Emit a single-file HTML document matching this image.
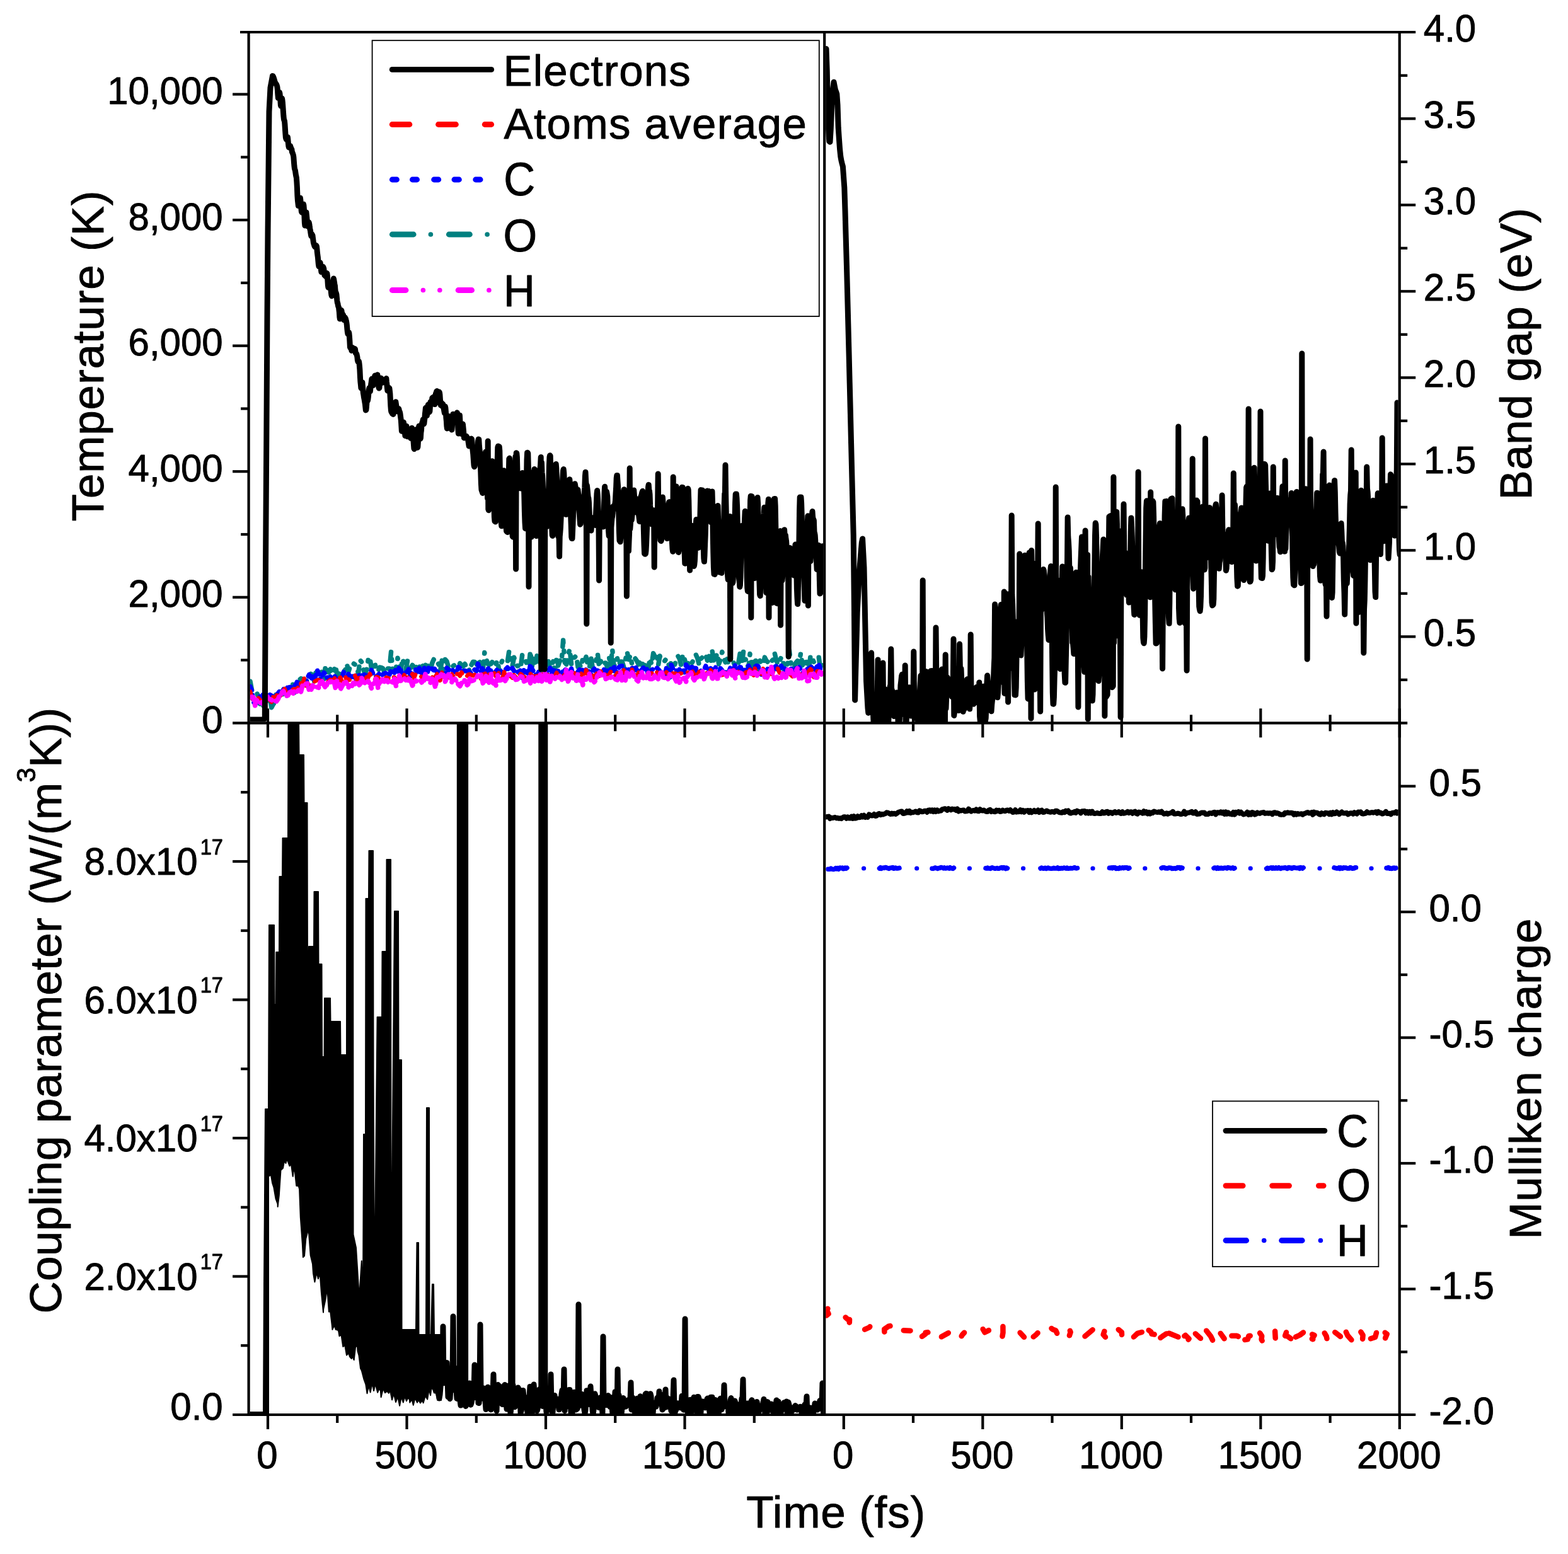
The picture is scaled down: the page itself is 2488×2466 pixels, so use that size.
<!DOCTYPE html>
<html><head><meta charset="utf-8"><style>html,body{margin:0;padding:0;background:#fff}svg{display:block}</style></head>
<body><svg xmlns="http://www.w3.org/2000/svg" width="2488" height="2466" viewBox="0 0 2488 2466">
<rect width="2488" height="2466" fill="#fff"/>
<defs><clipPath id="cTL"><rect x="396.6" y="53.0" width="909.6" height="1092.3"/></clipPath><clipPath id="cTR"><rect x="1310.2" y="53.0" width="908.4999999999998" height="1094.3"/></clipPath><clipPath id="cBL"><rect x="396.6" y="1147.3" width="909.6" height="1097.7"/></clipPath><clipPath id="cBR"><rect x="1310.2" y="1149.3" width="908.4999999999998" height="1093.7"/></clipPath></defs>
<g clip-path="url(#cTL)"><path d="M397.0 1081.3L399.6 1095.2L402.2 1098.7L404.8 1100.5L407.4 1098.9L410.0 1106.0L412.6 1117.0L415.2 1114.8L417.8 1119.9L420.4 1115.8L423.0 1117.8L425.6 1117.4L428.2 1106.5L430.8 1122.7L433.4 1117.7L436.0 1114.8L438.6 1097.8L441.2 1094.7L443.8 1097.5L446.4 1098.1L449.0 1101.5L451.6 1097.6L454.2 1099.6L456.8 1090.4L459.4 1095.0L462.0 1093.9L464.6 1085.4L467.2 1099.2L469.8 1090.0L472.4 1092.6L475.0 1079.1L477.6 1076.7L480.2 1077.7L482.8 1078.4L485.4 1082.3L488.0 1078.9L490.6 1073.6L493.2 1069.4L495.8 1071.3L498.4 1081.8L501.0 1067.7L503.6 1073.7L506.2 1074.0L508.8 1060.7L511.4 1070.0L514.0 1077.7L516.6 1055.6L519.2 1066.1L521.8 1067.0L524.4 1061.8L527.0 1069.8L529.6 1065.7L532.2 1056.0L534.8 1070.4L537.4 1068.9L540.0 1070.1L542.6 1072.8L545.2 1065.3L547.8 1063.2L550.4 1053.5L553.0 1065.8L555.6 1057.6L558.2 1058.4L560.8 1052.9L563.4 1054.6L566.0 1057.3L568.6 1068.9L571.2 1047.1L573.8 1050.6L576.4 1061.4L579.0 1069.1L581.6 1063.2L584.2 1046.9L586.8 1042.7L589.4 1061.2L592.0 1053.9L594.6 1051.2L597.2 1064.6L599.8 1065.2L602.4 1059.0L605.0 1059.4L607.6 1060.6L610.2 1068.1L612.8 1061.6L615.4 1060.9L618.0 1061.0L620.6 1034.0L623.2 1065.6L625.8 1063.4L628.4 1060.6L631.0 1044.2L633.6 1052.9L636.2 1062.4L638.8 1045.1L641.4 1055.6L644.0 1063.3L646.6 1048.1L649.2 1067.0L651.8 1060.0L654.4 1055.4L657.0 1058.4L659.6 1060.4L662.2 1056.9L664.8 1063.5L667.4 1051.7L670.0 1053.2L672.6 1062.6L675.2 1055.9L677.8 1049.9L680.4 1061.7L683.0 1065.0L685.6 1052.5L688.2 1046.4L690.8 1054.4L693.4 1054.2L696.0 1053.2L698.6 1064.2L701.2 1048.3L703.8 1063.0L706.4 1046.5L709.0 1049.5L711.6 1058.6L714.2 1061.8L716.8 1059.9L719.4 1056.5L722.0 1055.0L724.6 1055.0L727.2 1057.7L729.8 1052.7L732.4 1055.5L735.0 1057.3L737.6 1053.5L740.2 1058.4L742.8 1057.0L745.4 1066.3L748.0 1055.2L750.6 1050.2L753.2 1050.5L755.8 1052.7L758.4 1058.7L761.0 1050.4L763.6 1055.0L766.2 1064.3L768.8 1035.6L771.4 1044.8L774.0 1053.6L776.6 1054.5L779.2 1053.4L781.8 1048.9L784.4 1055.9L787.0 1053.4L789.6 1048.0L792.2 1067.1L794.8 1053.5L797.4 1047.5L800.0 1050.4L802.6 1049.5L805.2 1050.5L807.8 1033.2L810.4 1047.7L813.0 1057.4L815.6 1043.2L818.2 1050.4L820.8 1057.0L823.4 1056.3L826.0 1060.4L828.6 1039.7L831.2 1048.4L833.8 1048.4L836.4 1054.7L839.0 1057.7L841.6 1033.1L844.2 1057.6L846.8 1041.1L849.4 1054.9L852.0 1040.8L854.6 1051.6L857.2 1058.2L859.8 1049.4L862.4 1051.6L865.0 1055.5L867.6 1051.2L870.2 1049.7L872.8 1060.2L875.4 1057.1L878.0 1048.3L880.6 1068.0L883.2 1042.7L885.8 1056.1L888.4 1048.4L891.0 1051.0L893.6 1016.0L896.2 1051.5L898.8 1054.2L901.4 1040.1L904.0 1030.0L906.6 1053.9L909.2 1043.6L911.8 1043.2L914.4 1040.3L917.0 1058.1L919.6 1054.7L922.2 1059.4L924.8 1043.7L927.4 1049.7L930.0 1042.3L932.6 1054.7L935.2 1060.0L937.8 1043.8L940.4 1059.7L943.0 1056.0L945.6 1048.4L948.2 1036.7L950.8 1058.6L953.4 1048.8L956.0 1045.5L958.6 1052.0L961.2 1052.1L963.8 1059.1L966.4 1042.7L969.0 1056.7L971.6 1030.0L974.2 1058.7L976.8 1048.1L979.4 1044.4L982.0 1055.8L984.6 1049.9L987.2 1049.9L989.8 1058.4L992.4 1047.4L995.0 1034.1L997.6 1046.5L1000.2 1040.0L1002.8 1054.3L1005.4 1051.1L1008.0 1045.0L1010.6 1048.9L1013.2 1054.4L1015.8 1049.5L1018.4 1057.6L1021.0 1048.6L1023.6 1055.8L1026.2 1058.7L1028.8 1059.5L1031.4 1044.6L1034.0 1054.7L1036.6 1036.8L1039.2 1042.0L1041.8 1036.2L1044.4 1055.9L1047.0 1041.0L1049.6 1048.9L1052.2 1047.8L1054.8 1048.8L1057.4 1045.2L1060.0 1050.5L1062.6 1060.6L1065.2 1049.3L1067.8 1052.5L1070.4 1055.5L1073.0 1047.7L1075.6 1040.8L1078.2 1045.4L1080.8 1056.0L1083.4 1038.3L1086.0 1045.1L1088.6 1055.5L1091.2 1054.2L1093.8 1049.0L1096.4 1054.2L1099.0 1050.1L1101.6 1041.3L1104.2 1038.8L1106.8 1044.8L1109.4 1055.0L1112.0 1045.3L1114.6 1043.1L1117.2 1044.0L1119.8 1039.0L1122.4 1048.2L1125.0 1041.3L1127.6 1051.4L1130.2 1033.7L1132.8 1051.1L1135.4 1044.8L1138.0 1036.4L1140.6 1053.7L1143.2 1047.2L1145.8 1034.5L1148.4 1043.3L1151.0 1050.9L1153.6 1046.0L1156.2 1054.1L1158.8 1053.9L1161.4 1053.3L1164.0 1051.1L1166.6 1057.7L1169.2 1053.3L1171.8 1051.9L1174.4 1035.5L1177.0 1054.8L1179.6 1034.0L1182.2 1047.1L1184.8 1045.9L1187.4 1061.6L1190.0 1037.6L1192.6 1052.0L1195.2 1064.8L1197.8 1043.0L1200.4 1053.5L1203.0 1061.3L1205.6 1048.2L1208.2 1052.6L1210.8 1054.9L1213.4 1043.1L1216.0 1048.4L1218.6 1050.9L1221.2 1054.4L1223.8 1048.8L1226.4 1047.7L1229.0 1036.0L1231.6 1046.7L1234.2 1054.8L1236.8 1049.7L1239.4 1043.5L1242.0 1043.5L1244.6 1066.3L1247.2 1056.4L1249.8 1053.1L1252.4 1032.1L1255.0 1053.0L1257.6 1052.1L1260.2 1059.9L1262.8 1051.8L1265.4 1048.6L1268.0 1052.4L1270.6 1036.4L1273.2 1055.7L1275.8 1051.1L1278.4 1044.4L1281.0 1057.6L1283.6 1060.8L1286.2 1039.9L1288.8 1044.7L1291.4 1050.9L1294.0 1050.2L1296.6 1046.4L1299.2 1042.7L1301.8 1062.8L1304.4 1055.7" fill="none" stroke="#008080" stroke-width="7.5" stroke-linejoin="round" stroke-linecap="round" stroke-dasharray="14 13 2 13"/><path d="M397.0 1089.6L399.6 1095.7L402.2 1115.7L404.8 1112.8L407.4 1116.8L410.0 1112.5L412.6 1105.3L415.2 1110.6L417.8 1100.0L420.4 1106.4L423.0 1108.2L425.6 1109.6L428.2 1102.6L430.8 1104.0L433.4 1105.4L436.0 1103.7L438.6 1103.6L441.2 1100.3L443.8 1096.6L446.4 1100.4L449.0 1095.7L451.6 1090.6L454.2 1090.4L456.8 1092.1L459.4 1090.4L462.0 1090.5L464.6 1088.7L467.2 1088.3L469.8 1085.8L472.4 1079.6L475.0 1086.1L477.6 1087.8L480.2 1083.9L482.8 1080.4L485.4 1082.6L488.0 1075.5L490.6 1070.6L493.2 1078.7L495.8 1073.6L498.4 1080.4L501.0 1071.5L503.6 1063.9L506.2 1070.3L508.8 1081.4L511.4 1072.2L514.0 1067.5L516.6 1070.1L519.2 1075.7L521.8 1075.4L524.4 1073.7L527.0 1079.4L529.6 1075.7L532.2 1072.2L534.8 1074.8L537.4 1079.4L540.0 1076.1L542.6 1076.2L545.2 1066.5L547.8 1070.5L550.4 1074.3L553.0 1069.5L555.6 1075.5L558.2 1073.2L560.8 1074.4L563.4 1069.2L566.0 1081.5L568.6 1075.5L571.2 1068.8L573.8 1070.0L576.4 1081.1L579.0 1067.7L581.6 1073.0L584.2 1073.4L586.8 1068.8L589.4 1063.4L592.0 1069.3L594.6 1069.9L597.2 1073.3L599.8 1071.5L602.4 1068.1L605.0 1071.7L607.6 1070.3L610.2 1068.7L612.8 1068.0L615.4 1066.6L618.0 1070.7L620.6 1062.8L623.2 1064.7L625.8 1067.5L628.4 1060.8L631.0 1065.4L633.6 1058.3L636.2 1064.2L638.8 1069.8L641.4 1069.7L644.0 1066.9L646.6 1066.0L649.2 1060.6L651.8 1075.2L654.4 1069.2L657.0 1071.8L659.6 1062.8L662.2 1065.9L664.8 1058.5L667.4 1070.2L670.0 1070.8L672.6 1058.0L675.2 1066.3L677.8 1069.3L680.4 1058.5L683.0 1058.1L685.6 1061.5L688.2 1063.4L690.8 1059.9L693.4 1066.3L696.0 1067.2L698.6 1068.9L701.2 1069.2L703.8 1072.7L706.4 1071.2L709.0 1060.0L711.6 1063.6L714.2 1061.1L716.8 1061.0L719.4 1065.5L722.0 1065.9L724.6 1068.0L727.2 1058.7L729.8 1060.2L732.4 1065.7L735.0 1064.9L737.6 1064.3L740.2 1065.4L742.8 1062.3L745.4 1068.9L748.0 1067.3L750.6 1065.3L753.2 1062.6L755.8 1064.8L758.4 1053.4L761.0 1061.2L763.6 1065.7L766.2 1058.8L768.8 1066.4L771.4 1066.2L774.0 1059.3L776.6 1064.4L779.2 1064.1L781.8 1067.5L784.4 1068.2L787.0 1065.3L789.6 1061.6L792.2 1064.7L794.8 1065.1L797.4 1068.7L800.0 1066.7L802.6 1062.1L805.2 1059.2L807.8 1063.6L810.4 1061.9L813.0 1060.2L815.6 1064.7L818.2 1063.0L820.8 1065.7L823.4 1067.5L826.0 1063.3L828.6 1075.6L831.2 1063.7L833.8 1070.1L836.4 1065.6L839.0 1070.1L841.6 1054.4L844.2 1061.7L846.8 1066.1L849.4 1067.7L852.0 1075.5L854.6 1066.4L857.2 1070.7L859.8 1068.4L862.4 1069.2L865.0 1067.2L867.6 1064.2L870.2 1067.2L872.8 1060.0L875.4 1070.1L878.0 1060.2L880.6 1065.9L883.2 1074.3L885.8 1063.8L888.4 1064.8L891.0 1070.0L893.6 1064.8L896.2 1061.1L898.8 1065.8L901.4 1067.3L904.0 1067.8L906.6 1061.1L909.2 1072.5L911.8 1072.1L914.4 1064.7L917.0 1065.8L919.6 1062.6L922.2 1070.9L924.8 1061.3L927.4 1067.5L930.0 1062.3L932.6 1061.3L935.2 1067.7L937.8 1070.4L940.4 1064.4L943.0 1061.3L945.6 1068.0L948.2 1064.1L950.8 1065.7L953.4 1071.2L956.0 1069.4L958.6 1061.9L961.2 1074.5L963.8 1064.3L966.4 1067.8L969.0 1061.3L971.6 1064.0L974.2 1056.3L976.8 1072.2L979.4 1070.3L982.0 1058.7L984.6 1057.3L987.2 1056.8L989.8 1069.4L992.4 1062.0L995.0 1063.8L997.6 1062.6L1000.2 1063.5L1002.8 1059.1L1005.4 1064.1L1008.0 1057.5L1010.6 1063.6L1013.2 1065.3L1015.8 1066.0L1018.4 1062.8L1021.0 1059.8L1023.6 1064.6L1026.2 1061.6L1028.8 1070.9L1031.4 1067.2L1034.0 1063.3L1036.6 1061.6L1039.2 1060.6L1041.8 1059.5L1044.4 1062.1L1047.0 1065.0L1049.6 1066.0L1052.2 1066.2L1054.8 1073.1L1057.4 1060.5L1060.0 1063.7L1062.6 1076.2L1065.2 1055.2L1067.8 1061.2L1070.4 1064.3L1073.0 1064.2L1075.6 1065.3L1078.2 1062.4L1080.8 1065.1L1083.4 1063.7L1086.0 1066.9L1088.6 1054.9L1091.2 1059.4L1093.8 1063.4L1096.4 1058.7L1099.0 1058.7L1101.6 1066.2L1104.2 1060.4L1106.8 1066.2L1109.4 1066.6L1112.0 1064.6L1114.6 1065.5L1117.2 1062.8L1119.8 1056.9L1122.4 1063.1L1125.0 1065.2L1127.6 1060.8L1130.2 1062.7L1132.8 1066.5L1135.4 1059.2L1138.0 1066.0L1140.6 1071.5L1143.2 1060.6L1145.8 1063.7L1148.4 1062.4L1151.0 1069.9L1153.6 1064.4L1156.2 1067.0L1158.8 1059.9L1161.4 1062.9L1164.0 1062.9L1166.6 1054.9L1169.2 1069.4L1171.8 1066.9L1174.4 1055.0L1177.0 1066.2L1179.6 1062.2L1182.2 1064.8L1184.8 1064.4L1187.4 1056.0L1190.0 1061.8L1192.6 1069.5L1195.2 1060.1L1197.8 1058.1L1200.4 1056.6L1203.0 1057.2L1205.6 1064.2L1208.2 1070.3L1210.8 1064.6L1213.4 1063.7L1216.0 1072.6L1218.6 1060.2L1221.2 1059.5L1223.8 1064.9L1226.4 1065.0L1229.0 1057.9L1231.6 1057.2L1234.2 1063.8L1236.8 1063.6L1239.4 1056.6L1242.0 1061.5L1244.6 1060.0L1247.2 1064.5L1249.8 1061.8L1252.4 1062.0L1255.0 1060.7L1257.6 1067.1L1260.2 1068.6L1262.8 1060.6L1265.4 1066.1L1268.0 1058.8L1270.6 1062.6L1273.2 1065.6L1275.8 1069.0L1278.4 1060.5L1281.0 1061.8L1283.6 1063.0L1286.2 1055.4L1288.8 1062.2L1291.4 1059.1L1294.0 1063.8L1296.6 1057.0L1299.2 1053.1L1301.8 1062.2L1304.4 1063.2" fill="none" stroke="#0000ff" stroke-width="7.5" stroke-linejoin="round" stroke-linecap="round" stroke-dasharray="6 8"/><path d="M397.0 1097.4L399.6 1107.9L402.2 1110.2L404.8 1109.6L407.4 1113.3L410.0 1107.6L412.6 1110.7L415.2 1113.1L417.8 1116.2L420.4 1113.3L423.0 1113.5L425.6 1109.4L428.2 1111.1L430.8 1114.0L433.4 1105.7L436.0 1113.6L438.6 1103.4L441.2 1104.2L443.8 1103.4L446.4 1104.8L449.0 1096.8L451.6 1093.0L454.2 1100.0L456.8 1099.4L459.4 1097.8L462.0 1102.7L464.6 1094.3L467.2 1093.3L469.8 1094.2L472.4 1091.4L475.0 1094.2L477.6 1084.3L480.2 1085.8L482.8 1076.0L485.4 1088.2L488.0 1084.0L490.6 1087.3L493.2 1090.4L495.8 1083.3L498.4 1081.9L501.0 1080.6L503.6 1079.0L506.2 1079.0L508.8 1082.2L511.4 1080.0L514.0 1079.9L516.6 1079.0L519.2 1082.1L521.8 1080.6L524.4 1078.5L527.0 1080.7L529.6 1078.1L532.2 1074.9L534.8 1082.5L537.4 1079.3L540.0 1074.9L542.6 1080.8L545.2 1078.4L547.8 1072.5L550.4 1081.8L553.0 1077.9L555.6 1079.5L558.2 1077.3L560.8 1076.1L563.4 1071.8L566.0 1079.3L568.6 1076.3L571.2 1075.3L573.8 1077.1L576.4 1076.2L579.0 1077.9L581.6 1074.6L584.2 1075.5L586.8 1069.1L589.4 1074.2L592.0 1077.3L594.6 1079.2L597.2 1074.0L599.8 1074.6L602.4 1079.7L605.0 1073.9L607.6 1077.1L610.2 1079.8L612.8 1074.9L615.4 1078.4L618.0 1072.5L620.6 1075.2L623.2 1074.3L625.8 1074.8L628.4 1077.8L631.0 1081.5L633.6 1072.3L636.2 1072.6L638.8 1075.7L641.4 1071.0L644.0 1075.6L646.6 1075.8L649.2 1073.2L651.8 1075.6L654.4 1069.3L657.0 1076.1L659.6 1069.2L662.2 1071.7L664.8 1072.0L667.4 1072.4L670.0 1076.2L672.6 1073.8L675.2 1072.3L677.8 1075.1L680.4 1078.1L683.0 1073.4L685.6 1074.4L688.2 1077.0L690.8 1074.0L693.4 1069.3L696.0 1080.6L698.6 1079.7L701.2 1067.0L703.8 1072.8L706.4 1074.2L709.0 1075.8L711.6 1074.9L714.2 1072.0L716.8 1069.7L719.4 1073.1L722.0 1075.9L724.6 1069.5L727.2 1069.6L729.8 1072.6L732.4 1066.9L735.0 1071.9L737.6 1071.3L740.2 1074.0L742.8 1070.5L745.4 1069.9L748.0 1071.3L750.6 1072.3L753.2 1070.5L755.8 1072.5L758.4 1074.7L761.0 1075.9L763.6 1077.5L766.2 1070.0L768.8 1071.1L771.4 1064.8L774.0 1078.0L776.6 1070.1L779.2 1072.1L781.8 1073.7L784.4 1068.1L787.0 1073.5L789.6 1072.0L792.2 1066.6L794.8 1072.9L797.4 1075.6L800.0 1066.4L802.6 1074.4L805.2 1072.6L807.8 1073.3L810.4 1073.2L813.0 1075.8L815.6 1071.2L818.2 1074.4L820.8 1070.6L823.4 1073.9L826.0 1069.3L828.6 1071.4L831.2 1076.9L833.8 1073.0L836.4 1071.2L839.0 1068.2L841.6 1069.2L844.2 1072.1L846.8 1074.4L849.4 1072.8L852.0 1073.1L854.6 1071.3L857.2 1075.5L859.8 1070.2L862.4 1069.7L865.0 1074.0L867.6 1071.5L870.2 1070.5L872.8 1069.5L875.4 1070.5L878.0 1073.1L880.6 1072.3L883.2 1067.5L885.8 1072.4L888.4 1071.7L891.0 1068.1L893.6 1073.4L896.2 1070.2L898.8 1070.0L901.4 1073.4L904.0 1074.9L906.6 1068.9L909.2 1072.2L911.8 1068.3L914.4 1077.8L917.0 1069.3L919.6 1074.4L922.2 1068.8L924.8 1073.2L927.4 1077.4L930.0 1063.1L932.6 1069.4L935.2 1072.1L937.8 1070.3L940.4 1068.6L943.0 1077.0L945.6 1070.8L948.2 1065.6L950.8 1073.1L953.4 1065.3L956.0 1073.9L958.6 1068.7L961.2 1070.8L963.8 1074.1L966.4 1070.7L969.0 1066.1L971.6 1065.2L974.2 1073.8L976.8 1072.5L979.4 1067.8L982.0 1072.8L984.6 1071.6L987.2 1072.1L989.8 1063.3L992.4 1069.2L995.0 1072.8L997.6 1072.2L1000.2 1072.6L1002.8 1062.6L1005.4 1070.5L1008.0 1071.4L1010.6 1077.6L1013.2 1067.0L1015.8 1068.9L1018.4 1069.9L1021.0 1072.5L1023.6 1068.4L1026.2 1073.2L1028.8 1067.4L1031.4 1070.5L1034.0 1068.1L1036.6 1070.1L1039.2 1067.5L1041.8 1064.8L1044.4 1072.8L1047.0 1070.4L1049.6 1067.8L1052.2 1070.1L1054.8 1072.4L1057.4 1066.5L1060.0 1069.1L1062.6 1071.0L1065.2 1070.9L1067.8 1068.3L1070.4 1063.0L1073.0 1073.0L1075.6 1070.2L1078.2 1069.3L1080.8 1068.4L1083.4 1070.0L1086.0 1067.9L1088.6 1066.1L1091.2 1066.9L1093.8 1067.3L1096.4 1067.2L1099.0 1065.6L1101.6 1070.9L1104.2 1065.0L1106.8 1070.9L1109.4 1065.9L1112.0 1070.0L1114.6 1073.0L1117.2 1069.5L1119.8 1066.6L1122.4 1068.9L1125.0 1069.2L1127.6 1063.5L1130.2 1066.9L1132.8 1069.2L1135.4 1067.3L1138.0 1068.9L1140.6 1070.8L1143.2 1070.9L1145.8 1071.3L1148.4 1070.3L1151.0 1067.7L1153.6 1068.4L1156.2 1067.7L1158.8 1067.5L1161.4 1067.9L1164.0 1063.2L1166.6 1067.4L1169.2 1068.3L1171.8 1065.4L1174.4 1068.2L1177.0 1069.8L1179.6 1067.7L1182.2 1074.4L1184.8 1060.4L1187.4 1067.5L1190.0 1062.7L1192.6 1071.1L1195.2 1076.0L1197.8 1060.6L1200.4 1068.4L1203.0 1069.6L1205.6 1067.1L1208.2 1069.6L1210.8 1061.2L1213.4 1070.5L1216.0 1069.0L1218.6 1067.9L1221.2 1066.1L1223.8 1069.7L1226.4 1066.3L1229.0 1068.4L1231.6 1066.2L1234.2 1061.0L1236.8 1067.6L1239.4 1068.3L1242.0 1069.9L1244.6 1065.0L1247.2 1067.5L1249.8 1069.4L1252.4 1068.0L1255.0 1071.2L1257.6 1073.4L1260.2 1064.7L1262.8 1061.7L1265.4 1070.0L1268.0 1072.0L1270.6 1070.1L1273.2 1069.8L1275.8 1065.4L1278.4 1065.1L1281.0 1069.9L1283.6 1064.5L1286.2 1061.8L1288.8 1064.2L1291.4 1074.6L1294.0 1072.9L1296.6 1065.0L1299.2 1064.9L1301.8 1067.7L1304.4 1064.8" fill="none" stroke="#ff0000" stroke-width="6.5" stroke-linejoin="round" stroke-linecap="round" stroke-dasharray="14 12"/><path d="M397.0 1106.6L399.6 1105.8L402.2 1106.6L404.8 1119.7L407.4 1111.2L410.0 1116.3L412.6 1115.9L415.2 1114.4L417.8 1117.6L420.4 1112.5L423.0 1106.8L425.6 1105.0L428.2 1109.6L430.8 1110.7L433.4 1112.9L436.0 1111.9L438.6 1113.0L441.2 1109.4L443.8 1103.4L446.4 1102.4L449.0 1094.0L451.6 1102.4L454.2 1104.5L456.8 1103.5L459.4 1099.0L462.0 1097.5L464.6 1101.9L467.2 1096.1L469.8 1098.4L472.4 1096.5L475.0 1093.4L477.6 1097.7L480.2 1087.1L482.8 1087.7L485.4 1085.1L488.0 1084.7L490.6 1096.0L493.2 1096.6L495.8 1087.5L498.4 1089.8L501.0 1092.4L503.6 1090.1L506.2 1091.7L508.8 1078.9L511.4 1081.7L514.0 1087.1L516.6 1091.8L519.2 1085.1L521.8 1080.1L524.4 1082.5L527.0 1080.8L529.6 1079.7L532.2 1091.4L534.8 1080.6L537.4 1083.7L540.0 1094.3L542.6 1089.3L545.2 1084.9L547.8 1080.1L550.4 1085.0L553.0 1091.0L555.6 1086.0L558.2 1089.1L560.8 1083.3L563.4 1085.3L566.0 1081.7L568.6 1084.8L571.2 1089.1L573.8 1075.4L576.4 1082.2L579.0 1083.6L581.6 1079.5L584.2 1080.8L586.8 1086.2L589.4 1092.2L592.0 1085.3L594.6 1083.7L597.2 1074.3L599.8 1091.6L602.4 1082.3L605.0 1081.7L607.6 1076.3L610.2 1081.5L612.8 1076.3L615.4 1082.0L618.0 1084.0L620.6 1081.7L623.2 1082.9L625.8 1077.2L628.4 1088.6L631.0 1078.1L633.6 1072.2L636.2 1080.3L638.8 1077.4L641.4 1076.1L644.0 1079.3L646.6 1082.5L649.2 1075.1L651.8 1080.3L654.4 1088.0L657.0 1084.3L659.6 1080.0L662.2 1081.4L664.8 1080.1L667.4 1080.4L670.0 1084.3L672.6 1080.1L675.2 1068.5L677.8 1080.3L680.4 1075.9L683.0 1083.6L685.6 1077.2L688.2 1081.0L690.8 1091.1L693.4 1074.9L696.0 1074.5L698.6 1073.0L701.2 1068.0L703.8 1070.5L706.4 1081.6L709.0 1076.5L711.6 1070.3L714.2 1072.2L716.8 1082.6L719.4 1075.5L722.0 1077.5L724.6 1080.9L727.2 1086.0L729.8 1088.8L732.4 1084.2L735.0 1079.7L737.6 1079.8L740.2 1087.8L742.8 1085.9L745.4 1077.1L748.0 1080.8L750.6 1079.9L753.2 1078.7L755.8 1075.8L758.4 1071.6L761.0 1075.5L763.6 1070.4L766.2 1084.1L768.8 1080.6L771.4 1071.8L774.0 1084.8L776.6 1082.2L779.2 1068.1L781.8 1086.8L784.4 1081.5L787.0 1087.7L789.6 1071.2L792.2 1079.9L794.8 1079.3L797.4 1078.1L800.0 1077.9L802.6 1082.2L805.2 1069.4L807.8 1070.7L810.4 1069.9L813.0 1074.0L815.6 1073.7L818.2 1078.6L820.8 1078.0L823.4 1076.8L826.0 1073.2L828.6 1074.4L831.2 1081.3L833.8 1080.3L836.4 1077.0L839.0 1074.8L841.6 1084.1L844.2 1073.4L846.8 1079.5L849.4 1082.0L852.0 1074.9L854.6 1080.3L857.2 1070.6L859.8 1081.2L862.4 1077.1L865.0 1068.1L867.6 1079.3L870.2 1071.5L872.8 1082.3L875.4 1072.5L878.0 1075.0L880.6 1077.2L883.2 1074.1L885.8 1077.0L888.4 1072.9L891.0 1079.0L893.6 1075.6L896.2 1076.6L898.8 1061.8L901.4 1081.3L904.0 1075.6L906.6 1066.5L909.2 1075.8L911.8 1077.7L914.4 1080.6L917.0 1069.8L919.6 1082.9L922.2 1074.4L924.8 1087.1L927.4 1074.4L930.0 1078.4L932.6 1073.2L935.2 1069.4L937.8 1080.4L940.4 1079.4L943.0 1082.5L945.6 1079.1L948.2 1071.9L950.8 1066.4L953.4 1071.4L956.0 1071.3L958.6 1070.5L961.2 1077.5L963.8 1076.2L966.4 1073.2L969.0 1075.3L971.6 1073.7L974.2 1075.5L976.8 1078.1L979.4 1079.1L982.0 1070.8L984.6 1066.7L987.2 1081.3L989.8 1074.7L992.4 1079.6L995.0 1065.9L997.6 1072.4L1000.2 1074.1L1002.8 1066.8L1005.4 1071.3L1008.0 1077.5L1010.6 1079.3L1013.2 1081.8L1015.8 1069.5L1018.4 1066.7L1021.0 1076.3L1023.6 1078.4L1026.2 1074.6L1028.8 1067.1L1031.4 1077.5L1034.0 1077.5L1036.6 1076.3L1039.2 1071.0L1041.8 1075.0L1044.4 1077.4L1047.0 1070.6L1049.6 1064.1L1052.2 1074.9L1054.8 1075.7L1057.4 1073.3L1060.0 1077.6L1062.6 1070.2L1065.2 1072.7L1067.8 1071.6L1070.4 1075.9L1073.0 1081.0L1075.6 1071.7L1078.2 1083.2L1080.8 1080.6L1083.4 1076.8L1086.0 1075.8L1088.6 1081.7L1091.2 1071.9L1093.8 1072.2L1096.4 1067.4L1099.0 1075.0L1101.6 1079.4L1104.2 1075.3L1106.8 1074.7L1109.4 1071.5L1112.0 1073.4L1114.6 1065.3L1117.2 1077.7L1119.8 1070.4L1122.4 1066.8L1125.0 1068.6L1127.6 1068.2L1130.2 1076.5L1132.8 1077.5L1135.4 1065.4L1138.0 1076.8L1140.6 1076.6L1143.2 1069.2L1145.8 1064.6L1148.4 1068.3L1151.0 1068.8L1153.6 1073.7L1156.2 1070.1L1158.8 1061.7L1161.4 1073.0L1164.0 1064.1L1166.6 1076.3L1169.2 1065.7L1171.8 1068.3L1174.4 1067.4L1177.0 1068.9L1179.6 1078.1L1182.2 1075.8L1184.8 1074.6L1187.4 1073.1L1190.0 1063.7L1192.6 1068.9L1195.2 1068.7L1197.8 1066.5L1200.4 1073.9L1203.0 1067.6L1205.6 1067.7L1208.2 1066.0L1210.8 1060.9L1213.4 1074.2L1216.0 1077.8L1218.6 1072.0L1221.2 1066.2L1223.8 1057.5L1226.4 1071.9L1229.0 1077.1L1231.6 1072.4L1234.2 1075.6L1236.8 1078.3L1239.4 1076.5L1242.0 1068.6L1244.6 1076.0L1247.2 1074.6L1249.8 1063.0L1252.4 1068.7L1255.0 1063.5L1257.6 1070.1L1260.2 1073.5L1262.8 1065.2L1265.4 1060.2L1268.0 1077.0L1270.6 1072.3L1273.2 1077.8L1275.8 1063.8L1278.4 1075.7L1281.0 1080.7L1283.6 1080.3L1286.2 1069.2L1288.8 1071.6L1291.4 1069.4L1294.0 1075.1L1296.6 1075.3L1299.2 1070.5L1301.8 1063.3L1304.4 1073.7" fill="none" stroke="#ff00ff" stroke-width="7.5" stroke-linejoin="round" stroke-linecap="round" stroke-dasharray="10 7 3 7 3 7"/><path d="M396.6 1142.0L418.5 1142.0L420.3 1138.0L421.5 900.0L422.8 700.0L424.0 500.0L425.0 370.0L427.0 177.0L429.0 139.0L432.4 121.0L432.4 120.4L432.9 120.7L433.4 121.4L433.9 122.4L434.4 123.9L434.9 125.7L435.4 127.3L435.9 128.9L436.4 130.3L436.9 131.4L437.4 132.4L437.9 133.1L438.4 133.7L438.9 134.7L439.4 136.2L439.9 138.1L440.4 142.7L440.9 150.2L441.4 155.6L441.9 153.4L442.4 150.9L442.9 147.9L443.4 146.4L443.9 148.0L444.4 152.8L444.9 160.0L445.4 167.2L445.9 168.3L446.4 165.8L446.9 158.9L447.4 156.0L447.9 158.4L448.4 162.8L448.9 169.6L449.4 176.9L449.9 184.1L450.4 188.7L450.9 191.0L451.4 191.6L451.9 196.6L452.4 204.4L452.9 211.9L453.4 218.3L453.9 220.2L454.4 221.2L454.9 221.1L455.4 220.3L455.9 218.4L456.4 217.5L456.9 221.8L457.4 227.4L457.9 231.9L458.4 233.9L458.9 234.1L459.4 233.6L459.9 231.8L460.4 231.4L460.9 232.7L461.4 234.0L461.9 235.3L462.4 236.4L462.9 237.3L463.4 241.3L463.9 241.9L464.4 243.3L464.9 244.8L465.4 246.4L465.9 249.7L466.4 256.9L466.9 263.0L467.4 267.2L467.9 269.0L468.4 270.4L468.9 273.9L469.4 277.4L469.9 279.9L470.4 282.0L470.9 288.9L471.4 297.4L471.9 310.4L472.4 317.9L472.9 322.1L473.4 326.5L473.9 326.5L474.4 325.6L474.9 324.5L475.4 320.7L475.9 316.2L476.4 314.1L476.9 317.8L477.4 325.7L477.9 331.0L478.4 335.9L478.9 337.0L479.4 334.9L479.9 331.2L480.4 328.1L480.9 324.7L481.4 323.9L481.9 325.7L482.4 331.8L482.9 342.2L483.4 353.7L483.9 357.9L484.4 353.2L484.9 345.3L485.4 337.3L485.9 336.9L486.4 341.1L486.9 346.2L487.4 353.1L487.9 358.8L488.4 358.9L488.9 356.5L489.4 353.7L489.9 352.6L490.4 353.8L490.9 356.3L491.4 360.5L491.9 363.9L492.4 365.5L492.9 369.3L493.4 372.5L493.9 374.8L494.4 373.1L494.9 371.6L495.4 372.9L495.9 373.4L496.4 377.3L496.9 381.0L497.4 384.8L497.9 386.9L498.4 388.2L498.9 390.2L499.4 390.2L499.9 391.8L500.4 391.2L500.9 389.2L501.4 389.6L501.9 389.7L502.4 390.9L502.9 395.0L503.4 400.8L503.9 404.8L504.4 408.4L504.9 414.0L505.4 419.6L505.9 422.5L506.4 423.0L506.9 420.6L507.4 417.3L507.9 416.5L508.4 418.4L508.9 422.0L509.4 427.9L509.9 431.6L510.4 430.5L510.9 430.0L511.4 427.0L511.9 424.2L512.4 423.2L512.9 423.9L513.4 424.9L513.9 427.1L514.4 433.3L514.9 436.6L515.4 437.2L515.9 437.5L516.4 438.0L516.9 438.4L517.4 439.0L517.9 436.1L518.4 433.4L518.9 433.9L519.4 437.9L519.9 445.0L520.4 452.8L520.9 456.2L521.4 456.1L521.9 453.3L522.4 450.6L522.9 450.3L523.4 450.7L523.9 451.2L524.4 452.1L524.9 457.0L525.4 463.9L525.9 468.1L526.4 469.8L526.9 468.3L527.4 463.0L527.9 457.3L528.4 449.8L528.9 444.7L529.4 442.0L529.9 444.6L530.4 447.8L530.9 450.8L531.4 453.2L531.9 459.6L532.4 463.5L532.9 463.6L533.4 465.7L533.9 467.2L534.4 472.4L534.9 477.1L535.4 480.7L535.9 481.4L536.4 484.6L536.9 486.9L537.4 487.1L537.9 491.5L538.4 495.5L538.9 503.3L539.4 506.1L539.9 502.7L540.4 496.8L540.9 494.1L541.4 492.1L541.9 492.8L542.4 495.9L542.9 497.4L543.4 499.6L543.9 500.6L544.4 499.4L544.9 501.3L545.4 504.8L545.9 507.9L546.4 508.1L546.9 504.3L547.4 503.7L547.9 505.2L548.4 505.5L548.9 508.0L549.4 509.2L549.9 512.2L550.4 516.3L550.9 522.1L551.4 526.8L551.9 529.8L552.4 528.9L552.9 527.6L553.4 527.1L553.9 528.9L554.4 533.9L554.9 541.2L555.4 550.7L555.9 551.9L556.4 552.3L556.9 550.9L557.4 553.2L557.9 556.4L558.4 554.6L558.9 553.4L559.4 551.6L559.9 552.9L560.4 552.6L560.9 553.1L561.4 554.2L561.9 555.6L562.4 556.1L562.9 553.5L563.4 553.7L563.9 557.4L564.4 560.7L564.9 561.0L565.4 561.2L565.9 562.0L566.4 564.2L566.9 566.6L567.4 571.7L567.9 573.6L568.4 574.5L568.9 573.0L569.4 573.3L569.9 576.1L570.4 580.6L570.9 586.6L571.4 597.4L571.9 605.7L572.4 610.3L572.9 615.5L573.4 616.4L573.9 611.5L574.4 608.6L574.9 606.9L575.4 612.6L575.9 618.0L576.4 623.6L576.9 626.4L577.4 630.3L577.9 632.6L578.4 635.6L578.9 638.6L579.4 641.2L579.9 646.4L580.4 650.9L580.9 650.4L581.4 646.2L581.9 639.2L582.4 634.2L582.9 635.6L583.4 635.8L583.9 633.5L584.4 629.4L584.9 623.7L585.4 618.3L585.9 615.6L586.4 618.2L586.9 620.9L587.4 620.9L587.9 616.0L588.4 612.1L588.9 609.1L589.4 605.0L589.9 601.4L590.4 600.9L590.9 604.5L591.4 609.1L591.9 611.7L592.4 610.3L592.9 606.9L593.4 602.0L593.9 601.3L594.4 598.0L594.9 596.0L595.4 597.8L595.9 599.4L596.4 603.6L596.9 605.8L597.4 606.2L597.9 604.3L598.4 599.4L598.9 594.8L599.4 598.1L599.9 603.9L600.4 609.8L600.9 614.5L601.4 616.1L601.9 615.5L602.4 611.3L602.9 605.8L603.4 603.6L603.9 602.2L604.4 600.1L604.9 600.4L605.4 601.8L605.9 605.6L606.4 607.5L606.9 606.4L607.4 604.5L607.9 605.9L608.4 606.5L608.9 606.5L609.4 605.5L609.9 604.6L610.4 605.1L610.9 607.2L611.4 604.3L611.9 603.7L612.4 602.5L612.9 600.6L613.4 606.0L613.9 610.0L614.4 615.7L614.9 620.0L615.4 618.8L615.9 617.2L616.4 617.2L616.9 617.8L617.4 615.5L617.9 616.2L618.4 620.2L618.9 624.7L619.4 634.8L619.9 644.7L620.4 650.9L620.9 653.7L621.4 653.8L621.9 653.5L622.4 656.2L622.9 655.7L623.4 656.2L623.9 657.4L624.4 655.7L624.9 655.0L625.4 652.3L625.9 650.1L626.4 646.2L626.9 642.4L627.4 640.7L627.9 637.8L628.4 641.2L628.9 644.6L629.4 647.7L629.9 647.0L630.4 648.4L630.9 651.3L631.4 653.0L631.9 650.7L632.4 648.3L632.9 649.3L633.4 651.3L633.9 652.8L634.4 654.0L634.9 656.0L635.4 660.0L635.9 663.6L636.4 667.5L636.9 676.0L637.4 684.1L637.9 684.3L638.4 680.8L638.9 675.5L639.4 670.8L639.9 670.8L640.4 670.1L640.9 673.4L641.4 676.8L641.9 680.3L642.4 686.4L642.9 691.6L643.4 688.7L643.9 683.0L644.4 676.5L644.9 676.1L645.4 679.6L645.9 687.1L646.4 692.8L646.9 690.6L647.4 689.2L647.9 688.5L648.4 689.7L648.9 687.5L649.4 687.1L649.9 686.5L650.4 686.2L650.9 689.2L651.4 694.0L651.9 695.5L652.4 691.7L652.9 683.3L653.4 679.3L653.9 685.0L654.4 693.7L654.9 696.0L655.4 696.3L655.9 698.4L656.4 704.9L656.9 711.4L657.4 712.6L657.9 709.3L658.4 700.0L658.9 690.5L659.4 684.4L659.9 681.7L660.4 684.9L660.9 690.1L661.4 697.1L661.9 705.5L662.4 710.3L662.9 709.2L663.4 701.8L663.9 688.4L664.4 678.3L664.9 676.0L665.4 676.6L665.9 685.0L666.4 692.2L666.9 696.4L667.4 695.1L667.9 686.6L668.4 683.4L668.9 676.4L669.4 673.6L669.9 670.5L670.4 669.8L670.9 667.7L671.4 665.5L671.9 667.0L672.4 672.8L672.9 672.0L673.4 667.6L673.9 663.8L674.4 656.8L674.9 652.5L675.4 647.4L675.9 646.9L676.4 649.8L676.9 655.6L677.4 659.3L677.9 655.6L678.4 652.1L678.9 645.0L679.4 642.3L679.9 646.0L680.4 650.9L680.9 651.9L681.4 653.8L681.9 652.8L682.4 645.6L682.9 638.1L683.4 637.5L683.9 637.7L684.4 639.4L684.9 640.0L685.4 635.6L685.9 631.4L686.4 631.0L686.9 632.9L687.4 634.7L687.9 630.1L688.4 630.7L688.9 633.5L689.4 637.5L689.9 641.6L690.4 639.2L690.9 631.6L691.4 624.6L691.9 625.4L692.4 622.1L692.9 620.8L693.4 620.5L693.9 624.6L694.4 633.4L694.9 638.5L695.4 636.3L695.9 632.7L696.4 628.5L696.9 622.1L697.4 622.8L697.9 626.1L698.4 633.8L698.9 637.2L699.4 643.0L699.9 642.3L700.4 643.8L700.9 639.5L701.4 641.0L701.9 642.6L702.4 641.0L702.9 641.4L703.4 645.5L703.9 647.9L704.4 649.7L704.9 652.9L705.4 655.5L705.9 649.2L706.4 645.3L706.9 647.4L707.4 653.7L707.9 663.3L708.4 668.0L708.9 676.2L709.4 679.9L709.9 677.7L710.4 673.9L710.9 670.0L711.4 665.4L711.9 660.4L712.4 661.4L712.9 665.5L713.4 664.8L713.9 662.9L714.4 665.0L714.9 669.1L715.4 673.9L715.9 678.9L716.4 681.2L716.9 682.0L717.4 676.3L717.9 667.5L718.4 660.3L718.9 657.2L719.4 657.8L719.9 664.1L720.4 667.0L720.9 669.9L721.4 670.1L721.9 664.3L722.4 658.4L722.9 660.8L723.4 665.8L723.9 668.2L724.4 662.7L724.9 657.5L725.4 654.8L725.9 657.4L726.4 669.7L726.9 681.6L727.4 688.0L727.9 684.8L728.4 674.5L728.9 665.0L729.4 659.1L729.9 667.8L730.4 676.4L730.9 681.6L731.4 687.1L731.9 688.5L732.4 682.8L732.9 680.3L733.4 677.4L733.9 672.8L734.4 673.0L734.9 677.8L735.4 682.8L735.9 689.1L736.4 694.9L740.0 692.2L740.6 693.2L741.2 695.0L741.8 694.8L742.4 697.2L743.0 700.2L743.6 704.3L744.2 707.9L744.8 706.9L745.4 705.8L746.0 702.3L746.6 700.0L747.2 697.4L747.8 696.1L748.4 696.6L749.0 701.5L749.6 710.0L750.2 715.7L750.8 721.1L751.4 730.0L752.0 738.2L752.6 740.7L753.2 739.9L753.8 735.5L754.4 732.9L755.0 729.3L755.6 726.8L756.2 732.6L756.8 731.7L757.4 726.2L758.0 714.5L758.6 699.3L759.2 697.0L759.8 697.2L760.4 707.7L761.0 714.2L761.6 718.7L762.2 731.7L762.8 749.0L763.4 767.3L764.0 777.3L764.6 779.0L765.2 780.7L765.8 782.4L766.4 780.1L767.0 767.4L767.6 754.7L768.2 750.1L768.8 738.9L769.4 725.5L770.0 719.9L770.6 717.1L771.2 718.1L771.8 736.4L772.4 757.4L773.0 772.7L773.6 790.8L774.2 700.0L774.8 808.0L775.4 809.7L776.0 807.1L776.6 783.8L777.2 775.1L777.8 769.1L778.4 759.7L779.0 755.3L779.6 746.4L780.2 736.2L780.8 731.7L781.4 750.2L782.0 751.2L782.6 757.2L783.2 773.8L783.8 792.8L784.4 820.5L785.0 827.0L785.6 827.5L786.2 828.0L786.8 823.7L787.4 810.6L788.0 784.2L788.6 758.2L789.2 733.0L789.8 709.9L790.4 708.1L791.0 708.3L791.6 708.5L792.2 708.8L792.8 715.1L793.4 750.3L794.0 778.8L794.6 805.1L795.2 828.9L795.8 834.8L796.4 819.4L797.0 791.6L797.6 773.6L798.2 766.2L798.8 753.8L799.4 746.8L800.0 751.5L800.6 769.8L801.2 781.2L801.8 788.6L802.4 805.0L803.0 835.5L803.6 842.9L804.2 843.5L804.8 844.0L805.4 844.5L806.0 824.7L806.6 790.6L807.2 755.6L807.8 728.4L808.4 727.1L809.0 739.3L809.6 759.1L810.2 779.7L810.8 791.6L811.4 798.8L812.0 813.4L812.6 829.2L813.2 851.2L813.8 851.7L814.4 852.2L815.0 843.7L815.6 817.9L816.2 776.1L816.8 754.4L817.4 734.4L818.0 724.2L818.6 903.0L819.2 718.7L819.8 718.9L820.4 725.7L821.0 753.3L821.6 771.5L822.2 772.5L822.8 774.8L823.4 774.3L824.0 765.9L824.6 766.7L825.2 768.6L825.8 773.8L826.4 774.9L827.0 772.5L827.6 768.5L828.2 753.6L828.8 750.6L829.4 756.5L830.0 750.8L830.6 751.5L831.2 767.0L831.8 785.0L832.4 811.9L833.0 829.4L833.6 838.7L834.2 828.4L834.8 806.0L835.4 768.2L836.0 730.3L836.6 718.4L837.2 718.3L837.8 719.5L838.4 744.4L839.0 931.0L839.6 785.8L840.2 804.2L840.8 832.8L841.4 852.5L842.0 852.4L842.6 852.2L843.2 852.1L843.8 846.0L844.4 807.7L845.0 775.9L845.6 755.5L846.2 749.0L846.8 750.1L847.4 748.3L848.0 744.4L848.6 745.5L849.2 762.9L849.8 794.2L850.4 828.1L851.0 850.5L851.6 850.3L852.2 850.2L852.8 850.1L853.4 849.9L854.0 849.8L854.6 834.3L855.2 807.2L855.8 776.7L856.4 755.7L857.0 743.7L857.6 738.3L858.2 725.6L858.8 1062.0L859.4 734.1L860.0 749.7L860.6 754.6L861.2 766.6L861.8 785.1L862.4 802.5L863.0 818.4L863.6 824.6L864.2 1062.0L864.8 813.7L865.4 802.4L866.0 791.6L866.6 808.2L867.2 825.1L867.8 835.4L868.4 824.2L869.0 810.1L869.6 800.8L870.2 784.9L870.8 769.5L871.4 740.1L872.0 725.5L872.6 722.7L873.2 723.5L873.8 749.2L874.4 775.1L875.0 807.0L875.6 833.9L876.2 849.0L876.8 850.3L877.4 838.2L878.0 830.1L878.6 824.4L879.2 806.6L879.8 795.4L880.4 779.0L881.0 754.3L881.6 747.1L882.2 736.4L882.8 743.7L883.4 757.7L884.0 781.1L884.6 806.5L885.2 835.1L885.8 851.2L886.4 851.3L887.0 851.4L887.6 883.0L888.2 851.5L888.8 845.0L889.4 837.5L890.0 824.2L890.6 811.6L891.2 794.1L891.8 776.3L892.4 765.1L893.0 756.4L893.6 746.9L894.2 744.6L894.8 750.5L895.4 763.7L896.0 784.4L896.6 789.9L897.2 805.7L897.8 816.3L898.4 816.5L899.0 810.7L899.6 806.6L900.2 808.0L900.8 804.5L901.4 801.2L902.0 785.5L902.6 774.4L903.2 766.7L903.8 760.7L904.4 766.7L905.0 789.2L905.6 817.2L906.2 832.5L906.8 852.2L907.4 854.5L908.0 854.6L908.6 841.4L909.2 825.9L909.8 812.6L910.4 800.2L911.0 787.6L911.6 776.9L912.2 767.7L912.8 770.9L913.4 773.6L914.0 778.1L914.6 783.3L915.2 784.5L915.8 785.7L916.4 778.0L917.0 777.2L917.6 783.5L918.2 788.9L918.8 806.4L919.4 814.8L920.0 824.0L920.6 832.3L921.2 831.3L921.8 824.7L922.4 822.2L923.0 817.7L923.6 813.6L924.2 818.6L924.8 822.2L925.4 810.7L926.0 794.4L926.6 787.5L927.2 782.7L927.8 773.7L928.4 755.9L929.0 749.3L929.6 761.7L930.2 769.2L930.8 990.0L931.4 770.6L932.0 776.0L932.6 782.6L933.2 789.0L933.8 790.5L934.4 796.8L935.0 810.0L935.6 823.3L936.2 828.6L936.8 837.4L937.4 840.1L938.0 841.9L938.6 832.2L939.2 825.1L939.8 821.6L940.4 825.6L941.0 826.8L941.6 828.3L942.2 822.8L942.8 822.2L943.4 825.1L944.0 832.7L944.6 833.4L945.2 822.0L945.8 809.9L946.4 797.6L947.0 783.3L947.6 778.5L948.2 785.0L948.8 796.6L949.4 816.0L950.0 834.6L950.6 921.0L951.2 837.0L951.8 827.8L952.4 822.1L953.0 821.8L953.6 820.8L954.2 825.5L954.8 821.5L955.4 815.7L956.0 820.2L956.6 825.9L957.2 835.9L957.8 827.7L958.4 806.4L959.0 782.4L959.6 772.3L960.2 780.2L960.8 786.7L961.4 788.5L962.0 785.8L962.6 780.5L963.2 783.9L963.8 788.1L964.4 808.1L965.0 830.9L965.6 843.0L966.2 850.7L966.8 850.9L967.4 851.3L968.0 852.5L968.6 845.5L969.2 1020.0L969.8 837.2L970.4 829.7L971.0 822.5L971.6 819.6L972.2 813.7L972.8 803.5L973.4 804.7L974.0 806.8L974.6 804.9L975.2 807.6L975.8 799.8L976.4 795.2L977.0 783.6L977.6 774.4L978.2 758.7L978.8 754.5L979.4 754.5L980.0 763.7L980.6 771.6L981.2 796.5L981.8 815.7L982.4 842.5L983.0 857.9L983.6 854.8L984.2 859.7L984.8 854.7L985.4 850.3L986.0 850.2L986.6 836.0L987.2 821.4L987.8 803.9L988.4 794.7L989.0 789.5L989.6 779.8L990.2 776.7L990.8 784.8L991.4 794.1L992.0 809.2L992.6 819.6L993.2 827.9L993.8 836.1L994.4 946.0L995.0 852.3L995.6 863.5L996.2 872.8L996.8 874.3L997.4 874.5L998.0 859.2L998.6 846.1L999.2 743.0L999.8 839.3L1000.4 831.4L1001.0 822.8L1001.6 823.4L1002.2 825.5L1002.8 819.9L1003.4 814.0L1004.0 804.5L1004.6 797.1L1005.2 787.7L1005.8 778.1L1006.4 785.9L1007.0 804.6L1007.6 812.0L1008.2 812.8L1008.8 811.7L1009.4 809.3L1010.0 799.3L1010.6 799.8L1011.2 792.1L1011.8 794.2L1012.4 804.7L1013.0 813.5L1013.6 817.7L1014.2 822.4L1014.8 827.5L1015.4 816.5L1016.0 799.1L1016.6 790.9L1017.2 787.3L1017.8 786.1L1018.4 783.0L1019.0 780.8L1019.6 779.3L1020.2 803.4L1020.8 818.1L1021.4 842.2L1022.0 863.9L1022.6 878.6L1023.2 879.1L1023.8 879.2L1024.4 878.8L1025.0 874.0L1025.6 862.8L1026.2 846.9L1026.8 831.4L1027.4 808.9L1028.0 789.2L1028.6 772.5L1029.2 769.3L1029.8 778.2L1030.4 779.0L1031.0 784.2L1031.6 801.2L1032.2 809.8L1032.8 810.9L1033.4 820.8L1034.0 828.9L1034.6 832.2L1035.2 825.4L1035.8 820.6L1036.4 813.1L1037.0 809.7L1037.6 811.9L1038.2 900.0L1038.8 826.3L1039.4 827.4L1040.0 828.3L1040.6 828.0L1041.2 828.6L1041.8 824.9L1042.4 820.1L1043.0 812.5L1043.6 803.6L1044.2 752.0L1044.8 808.5L1045.4 814.5L1046.0 825.4L1046.6 837.3L1047.2 847.0L1047.8 857.3L1048.4 858.1L1049.0 858.5L1049.6 856.6L1050.2 826.0L1050.8 802.1L1051.4 789.0L1052.0 796.9L1052.6 800.1L1053.2 807.3L1053.8 818.8L1054.4 822.9L1055.0 835.7L1055.6 849.0L1056.2 851.9L1056.8 842.5L1057.4 829.4L1058.0 835.0L1058.6 854.6L1059.2 850.1L1059.8 830.1L1060.4 817.4L1061.0 807.2L1061.6 796.7L1062.2 796.4L1062.8 801.3L1063.4 811.4L1064.0 824.6L1064.6 828.7L1065.2 842.1L1065.8 848.6L1066.4 860.1L1067.0 871.0L1067.6 875.2L1068.2 757.0L1068.8 866.4L1069.4 841.6L1070.0 816.3L1070.6 799.6L1071.2 777.4L1071.8 771.8L1072.4 771.9L1073.0 772.0L1073.6 778.9L1074.2 798.5L1074.8 819.6L1075.4 846.8L1076.0 866.0L1076.6 876.4L1077.2 873.8L1077.8 867.4L1078.4 856.1L1079.0 838.3L1079.6 819.6L1080.2 799.6L1080.8 791.5L1081.4 782.4L1082.0 773.3L1082.6 773.4L1083.2 773.5L1083.8 783.6L1084.4 806.8L1085.0 836.1L1085.6 857.4L1086.2 878.4L1086.8 894.1L1087.4 894.3L1088.0 890.5L1088.6 874.3L1089.2 845.3L1089.8 816.7L1090.4 790.1L1091.0 776.5L1091.6 775.3L1092.2 777.5L1092.8 793.9L1093.4 822.9L1094.0 850.2L1094.6 905.0L1095.2 880.1L1095.8 867.5L1096.4 847.9L1097.0 833.9L1097.6 837.4L1098.2 834.7L1098.8 844.4L1099.4 869.6L1100.0 898.0L1100.6 898.2L1101.2 898.4L1101.8 895.9L1102.4 889.8L1103.0 876.2L1103.6 854.4L1104.2 831.7L1104.8 824.5L1105.4 826.7L1106.0 828.0L1106.6 833.5L1107.2 845.9L1107.8 860.1L1108.4 869.3L1109.0 868.1L1109.6 857.4L1110.2 842.4L1110.8 824.7L1111.4 799.0L1112.0 777.6L1112.6 777.7L1113.2 777.8L1113.8 777.9L1114.4 778.0L1115.0 792.1L1115.6 834.1L1116.2 868.2L1116.8 885.9L1117.4 891.1L1118.0 881.6L1118.6 863.6L1119.2 849.0L1119.8 826.9L1120.4 803.5L1121.0 786.6L1121.6 779.2L1122.2 779.0L1122.8 779.1L1123.4 779.2L1124.0 779.2L1124.6 793.2L1125.2 811.8L1125.8 807.0L1126.4 812.9L1127.0 821.7L1127.6 825.2L1128.2 828.9L1128.8 809.4L1129.4 783.8L1130.0 780.0L1130.6 802.1L1131.2 845.5L1131.8 877.1L1132.4 900.6L1133.0 910.9L1133.6 911.1L1134.2 911.4L1134.8 904.3L1135.4 887.2L1136.0 857.3L1136.6 832.9L1137.2 813.6L1137.8 810.4L1138.4 802.9L1139.0 802.4L1139.6 823.3L1140.2 834.7L1140.8 849.4L1141.4 908.0L1142.0 873.2L1142.6 874.1L1143.2 883.4L1143.8 896.5L1144.4 906.3L1145.0 909.3L1145.6 894.1L1146.2 875.6L1146.8 871.5L1147.4 874.0L1148.0 861.3L1148.6 830.8L1149.2 801.2L1149.8 783.7L1150.4 782.4L1151.0 738.0L1151.6 783.7L1152.2 811.5L1152.8 843.0L1153.4 882.5L1154.0 900.1L1154.6 913.0L1155.2 919.7L1155.8 903.3L1156.4 893.2L1157.0 864.9L1157.6 825.8L1158.2 819.4L1158.8 1046.0L1159.4 845.8L1160.0 872.8L1160.6 904.0L1161.2 914.1L1161.8 919.2L1162.4 925.5L1163.0 923.5L1163.6 911.3L1164.2 888.9L1164.8 871.6L1165.4 849.3L1166.0 825.5L1166.6 797.7L1167.2 784.0L1167.8 784.1L1168.4 784.1L1169.0 790.4L1169.6 803.5L1170.2 825.3L1170.8 851.9L1171.4 887.6L1172.0 909.8L1172.6 918.3L1173.2 922.2L1173.8 931.2L1174.4 928.7L1175.0 916.2L1175.6 888.8L1176.2 857.3L1176.8 839.2L1177.4 834.3L1178.0 844.0L1178.6 839.0L1179.2 845.4L1179.8 844.1L1180.4 850.9L1181.0 835.3L1181.6 824.3L1182.2 811.3L1182.8 818.9L1183.4 832.5L1184.0 860.7L1184.6 881.1L1185.2 915.3L1185.8 933.3L1186.4 938.1L1187.0 938.4L1187.6 938.7L1188.2 922.5L1188.8 894.0L1189.4 864.6L1190.0 825.7L1190.6 793.8L1191.2 787.2L1191.8 980.0L1192.4 787.5L1193.0 787.6L1193.6 790.7L1194.2 812.9L1194.8 853.8L1195.4 887.4L1196.0 907.0L1196.6 914.0L1197.2 916.3L1197.8 917.5L1198.4 907.0L1199.0 884.5L1199.6 866.9L1200.2 860.0L1200.8 837.4L1201.4 811.4L1202.0 789.6L1202.6 798.7L1203.2 828.4L1203.8 867.7L1204.4 907.0L1205.0 924.4L1205.6 943.5L1206.2 945.5L1206.8 928.8L1207.4 926.1L1208.0 901.3L1208.6 889.8L1209.2 879.2L1209.8 859.4L1210.4 845.6L1211.0 828.4L1211.6 821.2L1212.2 815.1L1212.8 805.2L1213.4 833.2L1214.0 857.5L1214.6 890.8L1215.2 916.8L1215.8 940.4L1216.4 938.5L1217.0 917.1L1217.6 858.3L1218.2 820.0L1218.8 798.6L1219.4 792.2L1220.0 980.0L1220.6 804.0L1221.2 863.4L1221.8 918.9L1222.4 956.0L1223.0 956.1L1223.6 956.2L1224.2 956.2L1224.8 956.3L1225.4 956.4L1226.0 941.3L1226.6 895.0L1227.2 840.0L1227.8 796.6L1228.4 791.6L1229.0 791.5L1229.6 791.5L1230.2 803.1L1230.8 835.2L1231.4 889.1L1232.0 935.9L1232.6 957.4L1233.2 957.5L1233.8 957.6L1234.4 957.7L1235.0 957.8L1235.6 923.4L1236.2 887.1L1236.8 866.0L1237.4 844.9L1238.0 842.6L1238.6 992.0L1239.2 877.6L1239.8 900.2L1240.4 919.6L1241.0 921.5L1241.6 916.0L1242.2 907.0L1242.8 886.9L1243.4 864.7L1244.0 848.7L1244.6 840.7L1245.2 849.9L1245.8 850.1L1246.4 849.3L1247.0 855.1L1247.6 858.6L1248.2 867.6L1248.8 871.2L1249.4 887.8L1250.0 898.0L1250.6 891.2L1251.2 1042.0L1251.8 907.7L1252.4 896.2L1253.0 882.0L1253.6 869.5L1254.2 870.9L1254.8 889.2L1255.4 901.4L1256.0 891.2L1256.6 887.7L1257.2 894.1L1257.8 902.2L1258.4 906.5L1259.0 897.0L1259.6 913.0L1260.2 908.3L1260.8 882.9L1261.4 870.8L1262.0 864.1L1262.6 867.2L1263.2 874.9L1263.8 899.9L1264.4 933.7L1265.0 948.7L1265.6 958.6L1266.2 949.7L1266.8 909.7L1267.4 883.5L1268.0 855.0L1268.6 809.7L1269.2 789.0L1269.8 789.1L1270.4 789.1L1271.0 789.1L1271.6 798.0L1272.2 817.3L1272.8 849.5L1273.4 870.5L1274.0 890.3L1274.6 894.4L1275.2 899.7L1275.8 919.4L1276.4 936.0L1277.0 953.3L1277.6 953.0L1278.2 947.1L1278.8 920.8L1279.4 892.2L1280.0 869.3L1280.6 843.5L1281.2 831.4L1281.8 818.8L1282.4 961.0L1283.0 820.3L1283.6 819.1L1284.2 835.4L1284.8 854.7L1285.4 874.5L1286.0 890.6L1286.6 880.1L1287.2 855.3L1287.8 826.7L1288.4 818.0L1289.0 811.6L1289.6 820.0L1290.2 823.4L1290.8 824.1L1291.4 825.9L1292.0 843.9L1292.6 846.2L1293.2 849.3L1293.8 858.7L1294.4 869.3L1295.0 878.2L1295.6 892.1L1296.2 903.7L1296.8 898.7L1297.4 896.5L1298.0 882.9L1298.6 865.7L1299.2 865.3L1299.8 889.1L1300.4 920.8L1301.0 942.1L1301.6 941.8L1302.2 931.3L1302.8 924.7L1303.4 914.2L1304.0 885.3L1304.6 872.9L1305.2 866.8L1305.8 874.0L1306.4 883.1L1307.0 867.9" fill="none" stroke="#000" stroke-width="9.0" stroke-linejoin="round" stroke-linecap="round" /></g>
<g clip-path="url(#cTR)"><path d="M1311.0 77.5L1312.2 111.9L1313.4 176.9L1314.6 206.4L1315.8 224.1L1317.0 225.2L1318.2 205.4L1319.4 177.5L1320.6 149.2L1321.8 139.7L1323.0 130.2L1324.2 136.4L1325.4 142.3L1326.6 145.5L1327.8 149.1L1329.0 166.2L1330.2 202.6L1331.4 220.3L1332.6 236.8L1333.8 248.4L1335.0 255.0L1336.2 259.9L1337.4 264.3L1338.6 280.9L1339.8 297.3L1341.0 334.4L1342.2 377.7L1343.4 420.1L1344.6 465.8L1345.8 512.8L1347.0 559.1L1348.2 607.9L1349.4 655.5L1350.6 704.9L1351.8 753.7L1353.0 801.5L1354.2 848.6L1355.4 960.3L1356.6 1110.9L1357.8 1063.7L1359.0 1018.4L1360.2 971.4L1361.4 948.5L1362.6 926.4L1363.8 904.1L1365.0 888.8L1366.2 874.5L1367.4 860.8L1368.6 855.0L1369.8 877.7L1371.0 900.5L1372.2 959.5L1373.4 1020.8L1374.6 1081.2L1377.0 1123.8L1377.8 1131.2L1378.6 1130.9L1379.4 1120.4L1380.2 1101.2L1381.0 1100.4L1381.8 1100.4L1382.6 1036.0L1383.4 1108.1L1384.2 1116.2L1385.0 1121.1L1385.8 1139.7L1386.6 1155.3L1387.4 1155.2L1388.2 1155.2L1389.0 1155.2L1389.8 1142.5L1390.6 1126.8L1391.4 1119.0L1392.2 1106.4L1393.0 1047.0L1393.8 1080.9L1394.6 1086.3L1395.4 1105.3L1396.2 1118.0L1397.0 1130.7L1397.8 1145.0L1398.6 1155.1L1399.4 1155.1L1400.2 1155.1L1401.0 1052.0L1401.8 1146.4L1402.6 1121.8L1403.4 1097.1L1404.2 1093.6L1405.0 1100.4L1405.8 1108.5L1406.6 1110.6L1407.4 1124.5L1408.2 1133.5L1409.0 1141.9L1409.8 1145.6L1410.6 1123.9L1411.4 1106.5L1412.2 1089.4L1413.0 1086.5L1413.8 1030.0L1414.6 1094.2L1415.4 1094.8L1416.2 1100.8L1417.0 1114.2L1417.8 1131.9L1418.6 1136.6L1419.4 1132.9L1420.2 1130.1L1421.0 1107.4L1421.8 1106.4L1422.6 1099.0L1423.4 1110.7L1424.2 1122.3L1425.0 1144.6L1425.8 1155.1L1426.6 1155.1L1427.4 1140.3L1428.2 1111.8L1429.0 1087.6L1429.8 1080.7L1430.6 1072.7L1431.4 1070.3L1432.2 1073.8L1433.0 1091.6L1433.8 1105.3L1434.6 1118.4L1435.4 1134.6L1436.2 1056.0L1437.0 1148.2L1437.8 1148.6L1438.6 1137.7L1439.4 1131.1L1440.2 1125.3L1441.0 1115.3L1441.8 1099.7L1442.6 1090.8L1443.4 1093.9L1444.2 1114.2L1445.0 1131.2L1445.8 1136.1L1446.6 1123.9L1447.4 1112.9L1448.2 1106.9L1449.0 1115.6L1449.8 1034.0L1450.6 1106.9L1451.4 1108.3L1452.2 1110.0L1453.0 1101.3L1453.8 1114.5L1454.6 1131.5L1455.4 1141.7L1456.2 1145.3L1457.0 1133.9L1457.8 1127.1L1458.6 1114.3L1459.4 1097.2L1460.2 1085.1L1461.0 1072.1L1461.8 1083.9L1462.6 1118.9L1463.4 1149.0L1464.2 921.0L1465.0 1135.4L1465.8 1113.3L1466.6 1095.1L1467.4 1066.2L1468.2 1066.1L1469.0 1065.9L1469.8 1065.8L1470.6 1091.9L1471.4 1148.6L1472.2 1155.3L1473.0 1155.3L1473.8 1155.3L1474.6 1132.5L1475.4 1105.3L1476.2 1067.9L1477.0 1064.7L1477.8 1064.6L1478.6 1064.5L1479.4 1087.4L1480.2 1123.8L1481.0 1152.0L1481.8 1155.4L1482.6 1155.4L1483.4 1155.4L1484.2 1137.1L1485.0 996.0L1485.8 1072.1L1486.6 1063.3L1487.4 1067.5L1488.2 1096.3L1489.0 1128.3L1489.8 1155.4L1490.6 1155.4L1491.4 1155.5L1492.2 1140.5L1493.0 1115.4L1493.8 1076.6L1494.6 1062.1L1495.4 1077.5L1496.2 1104.8L1497.0 1128.3L1497.8 1146.7L1498.6 1155.5L1499.4 1155.5L1500.2 1039.0L1501.0 1124.1L1501.8 1103.6L1502.6 1092.5L1503.4 1075.3L1504.2 1078.6L1505.0 1093.6L1505.8 1094.1L1506.6 1095.1L1507.4 1094.5L1508.2 1089.7L1509.0 1096.9L1509.8 1099.1L1510.6 1105.6L1511.4 1101.6L1512.2 1098.7L1513.0 1014.0L1513.8 1135.4L1514.6 1129.6L1515.4 1111.5L1516.2 1092.0L1517.0 1064.2L1517.8 1065.1L1518.6 1079.2L1519.4 1100.1L1520.2 1120.4L1521.0 1127.6L1521.8 1119.5L1522.6 1022.0L1523.4 1061.2L1524.2 1061.2L1525.0 1061.2L1525.8 1082.2L1526.6 1103.2L1527.4 1118.9L1528.2 1129.3L1529.0 1122.2L1529.8 1125.6L1530.6 1115.0L1531.4 1103.9L1532.2 1085.1L1533.0 1086.9L1533.8 1082.5L1534.6 1077.8L1535.4 1095.9L1536.2 1102.7L1537.0 1105.6L1537.8 1115.5L1538.6 1125.1L1539.4 1114.5L1540.2 1007.0L1541.0 1103.6L1541.8 1113.9L1542.6 1104.4L1543.4 1106.9L1544.2 1115.0L1545.0 1117.2L1545.8 1114.5L1546.6 1115.5L1547.4 1109.1L1548.2 1101.5L1549.0 1091.0L1549.8 1090.3L1550.6 1103.5L1551.4 1101.8L1552.2 1104.4L1553.0 1112.8L1553.8 1083.0L1554.6 1136.9L1555.4 1145.2L1556.2 1140.1L1557.0 1132.9L1557.8 1123.8L1558.6 1116.1L1559.4 1104.9L1560.2 1089.3L1561.0 1098.3L1561.8 1123.6L1562.6 1139.2L1563.4 1144.6L1564.2 1139.6L1565.0 1118.7L1565.8 1086.6L1566.6 1072.1L1567.4 1081.7L1568.2 1098.0L1569.0 1108.7L1569.8 1110.3L1570.6 1108.3L1573.0 1128.8L1573.7 1118.6L1574.4 1111.8L1575.1 1108.5L1575.8 1093.2L1576.5 1077.4L1577.2 1059.1L1577.9 1043.8L1578.6 959.0L1579.3 1031.8L1580.0 1036.2L1580.7 1048.8L1581.4 1062.7L1582.1 1091.3L1582.8 1106.8L1583.5 1099.4L1584.2 1087.1L1584.9 1070.1L1585.6 1045.3L1586.3 1005.3L1587.0 967.5L1587.7 963.4L1588.4 959.4L1589.1 960.1L1589.8 998.2L1590.5 1018.8L1591.2 1040.2L1591.9 1061.8L1592.6 1083.9L1593.3 939.0L1594.0 1100.3L1594.7 1100.5L1595.4 1089.0L1596.1 1052.9L1596.8 1019.7L1597.5 980.9L1598.2 942.7L1598.9 945.3L1599.6 1114.0L1600.3 1010.9L1601.0 1045.1L1601.7 1060.6L1602.4 1060.9L1603.1 1043.9L1603.8 1016.3L1604.5 974.1L1605.2 818.0L1605.9 943.5L1606.6 958.2L1607.3 980.9L1608.0 997.6L1608.7 1036.8L1609.4 1076.3L1610.1 1102.8L1610.8 1102.9L1611.5 1103.0L1612.2 1090.7L1612.9 1047.9L1613.6 1013.9L1614.3 992.8L1615.0 985.9L1615.7 987.0L1616.4 991.7L1617.1 999.8L1617.8 879.0L1618.5 1020.0L1619.2 1028.6L1619.9 1040.0L1620.6 1025.7L1621.3 985.5L1622.0 956.0L1622.7 932.8L1623.4 913.2L1624.1 894.6L1624.8 882.2L1625.5 881.7L1626.2 881.2L1626.9 883.2L1627.6 886.3L1628.3 906.8L1629.0 960.6L1629.7 1030.1L1630.4 1081.4L1631.1 1108.8L1631.8 1109.1L1632.5 1097.3L1633.2 877.0L1633.9 996.4L1634.6 935.3L1635.3 882.2L1636.0 1140.0L1636.7 873.4L1637.4 905.9L1638.1 955.2L1638.8 989.2L1639.5 1028.1L1640.2 1063.3L1640.9 1090.4L1641.6 1094.1L1642.3 1056.8L1643.0 1007.0L1643.7 942.3L1644.4 893.6L1645.1 894.1L1645.8 907.3L1646.5 935.3L1647.2 831.0L1647.9 1010.1L1648.6 1039.0L1649.3 1049.9L1650.0 1038.1L1650.7 1129.0L1651.4 972.6L1652.1 952.8L1652.8 943.5L1653.5 936.7L1654.2 947.3L1654.9 941.5L1655.6 903.4L1656.3 905.4L1657.0 913.3L1657.7 944.9L1658.4 966.4L1659.1 961.3L1659.8 944.9L1660.5 952.1L1661.2 970.2L1661.9 979.1L1662.6 998.4L1663.3 1008.4L1664.0 1015.5L1664.7 999.8L1665.4 948.9L1666.1 912.6L1666.8 904.6L1667.5 898.4L1668.2 933.0L1668.9 976.6L1669.6 1042.6L1670.3 1099.3L1671.0 1117.1L1671.7 1117.2L1672.4 1106.5L1673.1 1077.3L1673.8 1055.2L1674.5 1033.6L1675.2 773.0L1675.9 967.1L1676.6 932.8L1677.3 920.2L1678.0 934.8L1678.7 964.1L1679.4 977.2L1680.1 999.0L1680.8 1017.6L1681.5 1035.9L1682.2 1061.6L1682.9 1059.0L1683.6 1029.3L1684.3 961.4L1685.0 929.8L1685.7 898.9L1686.4 907.4L1687.1 933.8L1687.8 984.2L1688.5 1030.8L1689.2 1069.6L1689.9 1083.1L1690.6 1083.3L1691.3 1047.7L1692.0 1020.8L1692.7 962.8L1693.4 907.1L1694.1 821.0L1694.8 851.6L1695.5 860.7L1696.2 874.0L1696.9 905.4L1697.6 901.8L1698.3 900.7L1699.0 912.4L1699.7 922.7L1700.4 957.1L1701.1 987.9L1701.8 1019.9L1702.5 1021.0L1703.2 1028.7L1703.9 1037.6L1704.6 1009.1L1705.3 1001.1L1706.0 970.4L1706.7 925.1L1707.4 908.2L1708.1 934.0L1708.8 974.2L1709.5 1006.4L1710.2 1016.5L1710.9 1122.0L1711.6 992.8L1712.3 984.1L1713.0 958.6L1713.7 947.2L1714.4 905.8L1715.1 885.7L1715.8 868.9L1716.5 851.9L1717.2 893.5L1717.9 953.5L1718.6 1003.5L1719.3 1022.8L1720.0 1053.4L1720.7 1066.3L1721.4 1047.4L1722.1 842.0L1722.8 931.1L1723.5 910.1L1724.2 910.9L1724.9 904.6L1725.6 880.5L1726.3 1141.0L1727.0 915.2L1727.7 955.1L1728.4 949.6L1729.1 943.5L1729.8 954.4L1730.5 965.7L1731.2 1006.2L1731.9 1048.9L1732.6 1088.5L1733.3 1112.0L1734.0 1102.3L1734.7 1056.1L1735.4 985.9L1736.1 942.6L1736.8 906.3L1737.5 850.4L1738.2 830.0L1738.9 832.1L1739.6 853.1L1740.3 898.6L1741.0 935.2L1741.7 1016.3L1742.4 1069.8L1743.1 1080.7L1743.8 1070.9L1744.5 1046.3L1745.2 1024.8L1745.9 999.2L1746.6 981.8L1747.3 964.0L1748.0 944.3L1748.7 913.2L1749.4 883.2L1750.1 871.0L1750.8 856.1L1751.5 876.1L1752.2 903.9L1752.9 1136.0L1753.6 1018.4L1754.3 1054.7L1755.0 1106.0L1755.7 1104.9L1756.4 1103.8L1757.1 1102.7L1757.8 1055.3L1758.5 960.2L1759.2 879.8L1759.9 819.9L1760.6 819.5L1761.3 819.0L1762.0 818.6L1762.7 885.2L1763.4 959.4L1764.1 1052.3L1764.8 1090.7L1765.5 1089.6L1766.2 1088.5L1766.9 757.0L1767.6 1020.0L1768.3 949.1L1769.0 853.9L1769.7 813.6L1770.4 813.2L1771.1 812.7L1771.8 812.3L1772.5 831.6L1773.2 890.6L1773.9 949.6L1774.6 990.9L1775.3 1009.8L1776.0 1008.2L1776.7 1006.5L1777.4 995.7L1778.1 1138.0L1778.8 955.0L1779.5 898.8L1780.2 853.5L1780.9 841.4L1781.6 846.5L1782.3 857.6L1783.0 800.0L1783.7 872.6L1784.4 884.1L1785.1 876.5L1785.8 884.0L1786.5 898.8L1787.2 934.4L1787.9 944.4L1788.6 928.2L1789.3 914.9L1790.0 927.5L1790.7 939.8L1791.4 956.1L1792.1 943.1L1792.8 931.3L1793.5 896.8L1794.2 844.1L1794.9 821.9L1795.6 836.0L1796.3 852.2L1797.0 879.5L1797.7 917.0L1798.4 945.2L1799.1 964.0L1799.8 975.4L1800.5 961.7L1801.2 925.0L1801.9 896.8L1802.6 907.5L1803.3 911.7L1804.0 908.6L1804.7 932.9L1805.4 940.5L1806.1 749.0L1806.8 945.9L1807.5 961.7L1808.2 976.2L1808.9 946.5L1809.6 931.9L1810.3 911.8L1811.0 907.8L1811.7 912.1L1812.4 941.0L1813.1 971.7L1813.8 1012.1L1814.5 1019.3L1815.2 1020.8L1815.9 1010.1L1816.6 975.3L1817.3 914.3L1818.0 857.6L1818.7 806.0L1819.4 794.8L1820.1 794.9L1820.8 794.9L1821.5 806.1L1822.2 855.6L1822.9 894.1L1823.6 919.2L1824.3 941.7L1825.0 947.7L1825.7 781.0L1826.4 913.0L1827.1 864.5L1827.8 826.9L1828.5 795.1L1829.2 795.1L1829.9 796.8L1830.6 820.0L1831.3 867.6L1832.0 904.4L1832.7 951.7L1833.4 988.7L1834.1 1021.1L1834.8 1020.8L1835.5 1020.5L1836.2 981.7L1836.9 943.7L1837.6 900.2L1838.3 873.9L1839.0 858.4L1839.7 834.4L1840.4 830.5L1841.1 851.9L1841.8 885.2L1842.5 916.1L1843.2 929.0L1843.9 945.3L1844.6 1061.0L1845.3 962.3L1846.0 952.5L1846.7 911.8L1847.4 877.9L1848.1 818.3L1848.8 795.7L1849.5 795.7L1850.2 795.7L1850.9 795.3L1851.6 814.3L1852.3 851.1L1853.0 896.1L1853.7 953.8L1854.4 978.9L1855.1 989.3L1855.8 956.9L1856.5 879.2L1857.2 802.9L1857.9 791.9L1858.6 791.5L1859.3 791.2L1860.0 790.8L1860.7 820.2L1861.4 870.9L1862.1 897.2L1862.8 917.1L1863.5 917.1L1864.2 927.4L1864.9 935.7L1865.6 919.1L1866.3 919.2L1867.0 917.5L1867.7 923.0L1868.4 922.6L1869.1 933.5L1869.8 677.0L1870.5 964.5L1871.2 981.7L1871.9 988.3L1872.6 980.5L1873.3 947.8L1874.0 881.9L1874.7 842.7L1875.4 825.3L1876.1 807.8L1876.8 818.5L1877.5 842.9L1878.2 873.5L1878.9 926.5L1879.6 978.2L1880.3 989.1L1881.0 981.1L1881.7 970.2L1882.4 960.2L1883.1 1064.0L1883.8 916.4L1884.5 890.8L1885.2 843.5L1885.9 826.7L1886.6 821.9L1887.3 822.1L1888.0 824.2L1888.7 839.0L1889.4 849.1L1890.1 851.3L1890.8 846.4L1891.5 871.0L1892.2 728.0L1892.9 916.0L1893.6 934.2L1894.3 932.3L1895.0 931.2L1895.7 918.9L1896.4 891.4L1897.1 852.6L1897.8 818.7L1898.5 794.1L1899.2 805.2L1899.9 795.7L1900.6 816.8L1901.3 864.3L1902.0 926.9L1902.7 962.4L1903.4 966.8L1904.1 969.8L1904.8 963.6L1905.5 946.0L1906.2 907.3L1906.9 864.7L1907.6 815.4L1908.3 803.9L1909.0 819.7L1909.7 837.8L1910.4 872.4L1911.1 904.0L1911.8 901.4L1912.5 696.0L1913.2 886.0L1913.9 874.7L1914.6 859.0L1915.3 836.1L1916.0 818.9L1916.7 825.8L1917.4 826.3L1918.1 823.4L1918.8 811.9L1919.5 805.6L1920.2 821.7L1920.9 852.5L1921.6 888.2L1922.3 920.8L1923.0 956.3L1923.7 960.8L1924.4 960.1L1925.1 959.4L1925.8 950.4L1926.5 906.3L1927.2 869.3L1927.9 831.5L1928.6 803.1L1929.3 800.1L1930.0 808.0L1930.7 817.2L1931.4 837.2L1932.1 853.5L1932.8 875.5L1933.5 894.7L1934.2 902.3L1934.9 892.7L1935.6 889.5L1936.3 873.0L1937.0 858.2L1937.7 842.6L1938.4 833.2L1939.1 786.0L1939.8 837.3L1940.5 851.9L1941.2 855.7L1941.9 847.6L1942.6 850.2L1943.3 852.2L1944.0 867.4L1944.7 883.5L1945.4 905.3L1946.1 902.2L1946.8 888.3L1947.5 882.8L1948.2 861.9L1948.9 850.0L1949.6 840.8L1950.3 845.3L1951.0 848.4L1951.7 845.7L1952.4 852.9L1953.1 880.0L1953.8 888.1L1954.5 891.7L1955.2 880.5L1955.9 870.6L1956.6 863.2L1957.3 751.0L1958.0 822.4L1958.7 806.4L1959.4 801.0L1960.1 814.1L1960.8 831.9L1961.5 861.1L1962.2 887.1L1962.9 917.4L1963.6 930.2L1964.3 929.9L1965.0 906.5L1965.7 877.9L1966.4 845.1L1967.1 820.6L1967.8 820.8L1968.5 817.3L1969.2 812.6L1969.9 805.9L1970.6 817.9L1971.3 855.8L1972.0 878.2L1972.7 915.4L1973.4 920.5L1974.1 912.4L1974.8 894.2L1975.5 872.3L1976.2 840.8L1976.9 802.0L1977.6 773.6L1978.3 771.8L1979.0 780.5L1979.7 803.2L1980.4 834.5L1981.1 649.0L1981.8 897.1L1982.5 919.9L1983.2 923.1L1983.9 922.8L1984.6 920.6L1985.3 873.4L1986.0 817.0L1986.7 768.6L1987.4 744.8L1988.1 744.2L1988.8 743.5L1989.5 742.8L1990.2 742.2L1990.9 770.5L1991.6 817.4L1992.3 855.6L1993.0 890.0L1993.7 881.7L1994.4 864.7L1995.1 827.9L1995.8 785.9L1996.5 761.5L1997.2 761.5L1997.9 764.1L1998.6 772.4L1999.3 811.2L2000.0 653.0L2000.7 888.4L2001.4 917.2L2002.1 917.4L2002.8 917.5L2003.5 913.7L2004.2 885.4L2004.9 821.0L2005.6 758.7L2006.3 736.3L2007.0 736.7L2007.7 738.5L2008.4 768.5L2009.1 796.7L2009.8 811.9L2010.5 830.5L2011.2 846.3L2011.9 858.2L2012.6 839.3L2013.3 817.2L2014.0 789.1L2014.7 782.9L2015.4 793.8L2016.1 817.2L2016.8 845.8L2017.5 880.2L2018.2 903.8L2018.9 902.5L2019.6 890.3L2020.3 741.0L2021.0 849.3L2021.7 833.8L2022.4 821.3L2023.1 815.3L2023.8 813.1L2024.5 812.5L2025.2 804.6L2025.9 795.6L2026.6 790.2L2027.3 812.3L2028.0 833.2L2028.7 842.5L2029.4 855.4L2030.1 868.1L2030.8 870.2L2031.5 875.8L2032.2 863.4L2032.9 836.1L2033.6 807.6L2034.3 784.5L2035.0 771.8L2035.7 772.9L2036.4 795.1L2037.1 822.8L2037.8 853.7L2038.5 875.1L2039.2 731.0L2039.9 870.6L2040.6 849.5L2041.3 836.6L2042.0 823.3L2042.7 804.3L2043.4 793.6L2044.1 794.3L2044.8 798.2L2045.5 798.7L2046.2 803.8L2046.9 809.8L2047.6 815.7L2048.3 797.7L2049.0 782.6L2049.7 801.6L2050.4 841.3L2051.1 886.8L2051.8 916.1L2052.5 927.8L2053.2 928.3L2053.9 928.8L2054.6 908.8L2055.3 874.1L2056.0 820.6L2056.7 788.8L2057.4 780.5L2058.1 787.9L2058.8 808.5L2059.5 824.5L2060.2 841.1L2060.9 849.4L2061.6 845.2L2062.3 844.7L2063.0 868.3L2063.7 904.1L2064.4 925.5L2065.1 925.3L2065.8 561.0L2066.5 915.6L2067.2 880.1L2067.9 847.9L2068.6 840.9L2069.3 853.6L2070.0 841.9L2070.7 811.7L2071.4 778.8L2072.1 775.8L2072.8 776.5L2073.5 782.3L2074.2 1046.0L2074.9 834.4L2075.6 873.5L2076.3 881.8L2077.0 875.8L2077.7 881.0L2078.4 867.9L2079.1 697.0L2079.8 855.7L2080.5 863.1L2081.2 873.0L2081.9 883.1L2082.6 894.5L2083.3 898.5L2084.0 887.8L2084.7 895.3L2085.4 881.0L2086.1 864.6L2086.8 839.6L2087.5 817.1L2088.2 817.0L2088.9 803.6L2089.6 782.4L2090.3 782.2L2091.0 795.9L2091.7 819.7L2092.4 844.5L2093.1 874.3L2093.8 891.9L2094.5 914.4L2095.2 921.3L2095.9 897.2L2096.6 854.5L2097.3 823.4L2098.0 790.8L2098.7 753.0L2099.4 751.2L2100.1 717.0L2100.8 797.7L2101.5 861.4L2102.2 897.0L2102.9 926.1L2103.6 928.6L2104.3 914.7L2105.0 978.0L2105.7 877.0L2106.4 852.5L2107.1 833.5L2107.8 824.1L2108.5 781.7L2109.2 770.0L2109.9 784.8L2110.6 815.2L2111.3 847.2L2112.0 896.7L2112.7 927.8L2113.4 948.4L2114.1 940.1L2114.8 892.4L2115.5 847.3L2116.2 814.4L2116.9 769.0L2117.6 762.5L2118.3 781.1L2119.0 814.0L2119.7 837.5L2120.4 844.4L2121.1 849.5L2121.8 856.9L2122.5 858.2L2123.2 857.7L2123.9 861.7L2124.6 866.8L2125.3 875.6L2126.0 878.0L2126.7 853.0L2127.4 836.5L2128.1 830.4L2128.8 842.9L2129.5 861.6L2130.2 861.3L2130.9 866.5L2131.6 885.1L2132.3 921.0L2133.0 940.4L2133.7 975.0L2134.4 933.8L2135.1 924.9L2135.8 911.2L2136.5 923.7L2137.2 925.9L2137.9 911.7L2138.6 906.2L2139.3 903.3L2140.0 883.5L2140.7 863.1L2141.4 837.6L2142.1 799.8L2142.8 785.5L2143.5 778.8L2144.2 714.0L2144.9 820.3L2145.6 844.6L2146.3 878.8L2147.0 899.3L2147.7 913.5L2148.4 910.5L2149.1 884.2L2149.8 828.3L2150.5 776.3L2151.2 750.0L2151.9 989.0L2152.6 794.5L2153.3 840.4L2154.0 875.3L2154.7 918.2L2155.4 954.5L2156.1 971.5L2156.8 969.9L2157.5 918.3L2158.2 852.1L2158.9 793.0L2159.6 778.3L2160.3 810.6L2161.0 839.4L2161.7 873.9L2162.4 904.2L2163.1 954.5L2163.8 1036.0L2164.5 967.2L2165.2 952.8L2165.9 920.5L2166.6 875.2L2167.3 838.7L2168.0 814.8L2168.7 741.0L2169.4 775.2L2170.1 780.5L2170.8 792.3L2171.5 832.0L2172.2 856.4L2172.9 864.4L2173.6 881.9L2174.3 888.7L2175.0 882.1L2175.7 883.7L2176.4 873.6L2177.1 835.6L2177.8 803.3L2178.5 794.3L2179.2 798.1L2179.9 831.6L2180.6 868.1L2181.3 900.3L2182.0 939.0L2182.7 947.6L2183.4 895.5L2184.1 847.6L2184.8 818.5L2185.5 802.1L2186.2 782.8L2186.9 786.6L2187.6 818.1L2188.3 854.4L2189.0 871.1L2189.7 876.0L2190.4 879.5L2191.1 856.1L2191.8 847.7L2192.5 820.7L2193.2 695.0L2193.9 826.5L2194.6 840.7L2195.3 858.8L2196.0 844.2L2196.7 838.9L2197.4 824.3L2198.1 808.7L2198.8 803.5L2199.5 783.5L2200.2 771.1L2200.9 776.6L2201.6 803.2L2202.3 845.4L2203.0 886.0L2203.7 874.2L2204.4 861.6L2205.1 832.3L2205.8 782.6L2206.5 752.8L2207.2 754.2L2207.9 767.6L2208.6 785.7L2209.3 793.2L2210.0 798.1L2210.7 815.6L2211.4 833.7L2212.1 849.0L2212.8 850.1L2213.5 837.2L2214.2 813.1L2214.9 773.8L2215.6 764.0L2216.3 744.8L2217.0 639.0L2217.7 783.6L2218.4 798.3L2219.1 822.3L2219.8 847.6L2220.5 872.5L2221.2 880.3L2221.9 867.3" fill="none" stroke="#000" stroke-width="9.0" stroke-linejoin="round" stroke-linecap="round" /></g>
<g clip-path="url(#cBL)"><polygon points="418.0,2245.0 419.0,2040.0 421.0,1760.0 426.0,1760.0 427.0,1468.0 435.0,1468.0 435.5,1594.0 437.8,1594.0 438.3,1511.0 443.0,1511.0 443.5,1391.0 448.0,1391.0 448.5,1330.0 457.0,1330.0 457.5,1140.0 474.0,1140.0 474.5,1198.0 482.0,1198.0 482.5,1274.0 487.5,1274.0 488.0,1549.0 489.5,1549.0 490.0,1502.0 498.0,1502.0 498.5,1415.0 505.0,1415.0 505.5,1530.0 510.5,1530.0 511.0,1677.0 514.5,1677.0 515.0,1584.0 524.0,1584.0 524.5,1621.0 540.0,1621.0 540.5,1674.0 550.0,1674.0 550.5,1140.0 560.0,1140.0 560.5,1959.0 565.0,1980.0 570.0,2060.0 573.8,2001.0 576.0,2060.0 577.0,1800.0 580.0,1800.0 580.5,1426.0 585.0,1426.0 585.5,1350.0 592.0,1350.0 592.5,1700.0 594.0,2073.0 598.6,1614.0 606.0,1614.0 606.5,1510.0 613.0,1510.0 613.5,1364.0 620.0,1364.0 620.5,2073.0 626.0,1446.0 632.0,1446.0 632.5,1682.0 637.0,1682.0 637.5,2110.0 660.0,2110.0 661.5,1972.0 664.0,1972.0 664.5,2118.0 676.0,2118.0 677.0,1758.0 681.0,1758.0 681.5,2118.0 684.0,2118.0 686.0,2038.0 688.0,2038.0 689.0,2118.0 700.0,2118.0 700.0,2222.0 700.0,2220.0 698.0,2218.0 697.7,2213.7 694.3,2221.9 691.7,2210.7 688.9,2210.3 686.4,2203.2 684.2,2204.3 683.1,2214.2 680.8,2204.2 678.2,2220.5 674.8,2215.0 671.7,2226.3 670.4,2222.7 669.7,2222.6 667.0,2226.5 664.2,2221.8 662.0,2225.6 658.6,2218.4 655.8,2229.8 653.5,2220.4 650.3,2225.6 649.7,2220.4 647.3,2218.3 644.9,2223.2 642.4,2215.5 639.8,2225.5 638.2,2220.4 636.5,2218.3 634.1,2230.7 631.2,2216.3 628.0,2225.0 624.8,2211.5 622.0,2221.4 619.4,2208.1 617.6,2209.0 616.8,2210.8 614.2,2207.7 610.9,2210.2 608.0,2203.2 604.6,2217.2 603.8,2206.6 601.4,2204.1 599.2,2209.7 596.1,2198.1 594.6,2199.7 593.1,2207.0 590.5,2194.5 587.7,2209.4 585.0,2198.6 582.5,2211.2 580.8,2199.7 580.3,2196.6 577.3,2188.3 574.0,2175.4 572.0,2171.4 571.6,2167.6 569.5,2151.0 567.5,2144.0 567.0,2135.4 564.1,2137.4 561.7,2158.1 558.2,2150.9 557.8,2156.0 555.1,2153.1 553.0,2147.0 550.0,2150.5 547.4,2135.6 546.4,2135.4 544.3,2137.0 541.5,2118.1 538.5,2120.3 537.2,2112.4 536.2,2110.8 532.7,2109.8 530.5,2103.1 527.4,2109.9 526.8,2103.2 524.2,2081.5 521.9,2081.6 518.9,2040.9 518.8,2045.8 516.3,2063.1 513.2,2077.5 513.0,2082.6 509.9,2051.1 507.7,2021.0 507.3,2020.5 504.9,2029.2 502.6,2018.7 499.4,2034.4 497.0,2020.5 496.0,2005.8 492.7,1991.9 490.1,1957.9 488.9,1949.0 487.6,1956.9 485.3,1965.8 483.0,1993.1 480.9,1995.0 479.8,1973.5 476.8,1931.6 475.1,1887.0 473.7,1882.0 470.3,1881.7 467.9,1859.7 466.0,1855.0 464.7,1866.8 461.9,1846.6 459.5,1850.3 456.1,1841.1 454.5,1841.4 453.6,1845.9 451.0,1842.7 449.0,1853.7 445.5,1856.9 445.3,1859.7 442.8,1897.1 440.7,1915.0 440.6,1910.6 437.5,1902.2 434.4,1884.1 432.2,1877.4 430.3,1866.6 429.2,1864.1 427.0,1866.3 426.0,1866.0 426.0,2245.0" fill="#000" stroke="#000" stroke-width="2" stroke-linejoin="round"/><rect x="724.8" y="1140" width="18.3" height="1080" fill="#000"/><rect x="806.2" y="1140" width="11.4" height="1080" fill="#000"/><rect x="854.3" y="1140" width="15.0" height="1080" fill="#000"/><path d="M696.0 2191.6L697.0 2218.9L698.0 2213.0L699.0 2201.1L700.0 2174.7L701.0 2152.1L702.0 2194.3L703.0 2105.0L704.0 2194.7L705.0 2184.6L706.0 2174.4L707.0 2189.5L708.0 2173.1L709.0 2162.5L710.0 2189.7L711.0 2216.8L712.0 2212.1L713.0 2216.8L714.0 2219.7L715.0 2203.9L716.0 2202.4L717.0 2206.3L718.0 2190.8L719.0 2089.0L720.0 2185.4L721.0 2189.7L722.0 2183.6L723.0 2185.9L724.0 2206.0L725.0 2219.4L726.0 2207.6L727.0 2171.1L728.0 2174.4L729.0 2193.8L730.0 2222.5L731.0 2230.1L732.0 2214.0L733.0 2198.9L734.0 2185.7L735.0 2184.7L736.0 2189.6L737.0 2184.0L738.0 2205.0L739.0 2231.4L740.0 2229.5L741.0 2210.6L742.0 2216.5L743.0 2220.7L744.0 2212.9L745.0 2195.0L746.0 2207.1L747.0 2229.2L748.0 2226.1L749.0 2220.2L750.0 2203.1L751.0 2194.3L752.0 2208.9L753.0 2166.0L754.0 2217.6L755.0 2201.3L756.0 2202.2L757.0 2208.6L758.0 2206.8L759.0 2226.3L760.0 2226.6L761.0 2214.2L762.0 2102.0L763.0 2205.8L764.0 2209.9L765.0 2219.1L766.0 2218.9L767.0 2208.7L768.0 2203.1L769.0 2215.0L770.0 2223.7L771.0 2236.5L772.0 2232.6L773.0 2211.6L774.0 2201.2L775.0 2202.1L776.0 2208.4L777.0 2216.8L778.0 2229.7L779.0 2236.9L780.0 2231.4L781.0 2219.6L782.0 2214.3L783.0 2181.0L784.0 2223.2L785.0 2218.3L786.0 2223.3L787.0 2231.9L788.0 2238.8L789.0 2208.7L790.0 2197.6L791.0 2204.8L792.0 2199.5L793.0 2217.3L794.0 2217.2L795.0 2214.9L796.0 2217.5L797.0 2228.4L798.0 2228.5L799.0 2218.3L800.0 2199.3L801.0 2197.5L802.0 2215.4L803.0 2221.7L804.0 2236.0L805.0 2216.0L806.0 2200.3L807.0 2199.1L808.0 2212.7L809.0 2229.9L810.0 2243.2L811.0 2234.0L812.0 2207.2L813.0 2198.1L814.0 2198.2L815.0 2209.3L816.0 2225.6L817.0 2232.7L818.0 2229.9L819.0 2228.0L820.0 2224.7L821.0 2210.5L822.0 2202.0L823.0 2204.5L824.0 2213.4L825.0 2206.0L826.0 2242.4L827.0 2239.1L828.0 2235.2L829.0 2216.7L830.0 2206.6L831.0 2216.9L832.0 2227.3L833.0 2226.6L834.0 2217.5L835.0 2220.5L836.0 2229.0L837.0 2243.4L838.0 2243.6L839.0 2240.7L840.0 2216.4L841.0 2200.5L842.0 2200.5L843.0 2225.6L844.0 2243.3L845.0 2237.8L846.0 2222.4L847.0 2197.0L848.0 2208.7L849.0 2209.3L850.0 2214.3L851.0 2232.4L852.0 2238.8L853.0 2236.2L854.0 2229.1L855.0 2207.2L856.0 2204.5L857.0 2207.2L858.0 2217.0L859.0 2215.7L860.0 2224.7L861.0 2231.4L862.0 2224.4L863.0 2226.5L864.0 2220.4L865.0 2226.9L866.0 2228.5L867.0 2241.1L868.0 2230.9L869.0 2221.9L870.0 2208.5L871.0 2203.0L872.0 2206.2L873.0 2220.1L874.0 2181.0L875.0 2230.7L876.0 2240.4L877.0 2241.4L878.0 2225.7L879.0 2226.0L880.0 2214.6L881.0 2223.3L882.0 2229.0L883.0 2224.0L884.0 2220.5L885.0 2220.3L886.0 2229.6L887.0 2236.8L888.0 2231.6L889.0 2228.8L890.0 2222.0L891.0 2212.4L892.0 2206.1L893.0 2207.5L894.0 2221.3L895.0 2173.0L896.0 2238.6L897.0 2226.3L898.0 2216.9L899.0 2217.8L900.0 2224.1L901.0 2231.6L902.0 2215.4L903.0 2205.6L904.0 2205.6L905.0 2218.7L906.0 2241.8L907.0 2244.6L908.0 2244.6L909.0 2221.3L910.0 2210.4L911.0 2209.2L912.0 2225.8L913.0 2236.8L914.0 2237.1L915.0 2233.2L916.0 2235.7L917.0 2231.8L918.0 2070.0L919.0 2223.7L920.0 2230.4L921.0 2227.1L922.0 2214.6L923.0 2212.2L924.0 2215.9L925.0 2220.8L926.0 2229.0L927.0 2237.1L928.0 2243.4L929.0 2237.3L930.0 2219.0L931.0 2206.8L932.0 2206.8L933.0 2216.1L934.0 2225.5L935.0 2228.5L936.0 2220.9L937.0 2200.0L938.0 2216.1L939.0 2220.4L940.0 2236.4L941.0 2244.9L942.0 2237.2L943.0 2217.3L944.0 2211.8L945.0 2215.5L946.0 2224.5L947.0 2225.5L948.0 2229.0L949.0 2231.5L950.0 2233.4L951.0 2230.6L952.0 2226.8L953.0 2217.5L954.0 2222.8L955.0 2230.9L956.0 2243.4L957.0 2121.0L958.0 2226.0L959.0 2222.7L960.0 2220.1L961.0 2225.4L962.0 2229.4L963.0 2229.4L964.0 2215.1L965.0 2214.5L966.0 2222.5L967.0 2223.0L968.0 2232.4L969.0 2223.7L970.0 2217.7L971.0 2232.5L972.0 2244.4L973.0 2237.4L974.0 2229.8L975.0 2227.4L976.0 2208.7L977.0 2208.7L978.0 2219.3L979.0 2242.5L980.0 2173.0L981.0 2232.2L982.0 2213.9L983.0 2220.9L984.0 2229.7L985.0 2245.0L986.0 2245.2L987.0 2233.5L988.0 2222.0L989.0 2218.5L990.0 2225.0L991.0 2232.5L992.0 2230.2L993.0 2232.1L994.0 2230.9L995.0 2226.1L996.0 2223.4L997.0 2221.5L998.0 2223.9L999.0 2227.2L1000.0 2222.2L1001.0 2194.0L1002.0 2237.0L1003.0 2233.4L1004.0 2218.0L1005.0 2220.9L1006.0 2230.1L1007.0 2240.3L1008.0 2239.1L1009.0 2235.1L1010.0 2224.6L1011.0 2219.3L1012.0 2229.3L1013.0 2245.4L1014.0 2245.4L1015.0 2228.3L1016.0 2215.8L1017.0 2217.0L1018.0 2220.1L1019.0 2222.7L1020.0 2241.5L1021.0 2245.5L1022.0 2235.7L1023.0 2225.5L1024.0 2212.5L1025.0 2211.3L1026.0 2211.6L1027.0 2232.4L1028.0 2245.5L1029.0 2245.5L1030.0 2245.5L1031.0 2223.8L1032.0 2211.7L1033.0 2215.6L1034.0 2235.9L1035.0 2245.5L1036.0 2244.0L1037.0 2229.5L1038.0 2229.1L1039.0 2226.3L1040.0 2231.0L1041.0 2232.1L1042.0 2227.8L1043.0 2218.3L1044.0 2217.2L1045.0 2223.5L1046.0 2208.0L1047.0 2223.5L1048.0 2218.0L1049.0 2213.1L1050.0 2227.1L1051.0 2237.0L1052.0 2235.4L1053.0 2234.8L1054.0 2232.2L1055.0 2231.6L1056.0 2205.0L1057.0 2233.0L1058.0 2219.5L1059.0 2218.4L1060.0 2225.5L1061.0 2231.9L1062.0 2230.0L1063.0 2231.5L1064.0 2232.1L1065.0 2239.0L1066.0 2231.1L1067.0 2218.3L1068.0 2218.7L1069.0 2190.0L1070.0 2234.8L1071.0 2241.3L1072.0 2238.4L1073.0 2236.4L1074.0 2229.8L1075.0 2226.7L1076.0 2229.4L1077.0 2226.7L1078.0 2231.7L1079.0 2231.0L1080.0 2234.1L1081.0 2228.9L1082.0 2215.2L1083.0 2215.7L1084.0 2217.6L1085.0 2237.2L1086.0 2237.3L1087.0 2093.0L1088.0 2226.7L1089.0 2232.2L1090.0 2231.7L1091.0 2238.4L1092.0 2245.7L1093.0 2236.3L1094.0 2224.5L1095.0 2221.3L1096.0 2228.4L1097.0 2234.6L1098.0 2239.4L1099.0 2231.9L1100.0 2225.1L1101.0 2217.2L1102.0 2221.0L1103.0 2234.8L1104.0 2237.1L1105.0 2239.4L1106.0 2229.8L1107.0 2216.4L1108.0 2216.4L1109.0 2219.2L1110.0 2239.1L1111.0 2245.9L1112.0 2241.4L1113.0 2223.7L1114.0 2226.0L1115.0 2224.1L1116.0 2227.6L1117.0 2226.9L1118.0 2231.5L1119.0 2233.9L1120.0 2233.3L1121.0 2227.0L1122.0 2219.8L1123.0 2218.9L1124.0 2221.6L1125.0 2233.4L1126.0 2241.5L1127.0 2240.5L1128.0 2217.3L1129.0 2217.3L1130.0 2217.3L1131.0 2231.8L1132.0 2245.3L1133.0 2236.8L1134.0 2222.8L1135.0 2221.4L1136.0 2223.2L1137.0 2244.0L1138.0 2245.8L1139.0 2245.8L1140.0 2245.8L1141.0 2234.6L1142.0 2225.2L1143.0 2219.3L1144.0 2230.9L1145.0 2236.9L1146.0 2234.3L1147.0 2232.8L1148.0 2229.4L1149.0 2198.0L1150.0 2229.9L1151.0 2228.0L1152.0 2229.5L1153.0 2232.2L1154.0 2230.6L1155.0 2227.8L1156.0 2242.1L1157.0 2245.6L1158.0 2237.7L1159.0 2222.0L1160.0 2218.6L1161.0 2223.4L1162.0 2237.1L1163.0 2245.8L1164.0 2245.8L1165.0 2232.1L1166.0 2223.0L1167.0 2226.5L1168.0 2229.6L1169.0 2238.5L1170.0 2239.8L1171.0 2236.1L1172.0 2229.0L1173.0 2230.0L1174.0 2241.4L1175.0 2243.1L1176.0 2229.7L1177.0 2219.4L1178.0 2219.4L1179.0 2189.0L1180.0 2244.0L1181.0 2245.7L1182.0 2239.6L1183.0 2233.9L1184.0 2231.7L1185.0 2228.4L1186.0 2227.0L1187.0 2233.7L1188.0 2242.2L1189.0 2240.7L1190.0 2237.6L1191.0 2231.9L1192.0 2223.3L1193.0 2221.7L1194.0 2226.6L1195.0 2227.1L1196.0 2233.3L1197.0 2239.2L1198.0 2244.5L1199.0 2244.7L1200.0 2232.7L1201.0 2224.4L1202.0 2230.7L1203.0 2238.3L1204.0 2240.9L1205.0 2237.4L1206.0 2236.3L1207.0 2233.0L1208.0 2231.3L1209.0 2231.8L1210.0 2230.9L1211.0 2225.2L1212.0 2220.3L1213.0 2228.7L1214.0 2245.6L1215.0 2245.7L1216.0 2242.8L1217.0 2233.4L1218.0 2224.6L1219.0 2226.7L1220.0 2236.0L1221.0 2238.0L1222.0 2230.0L1223.0 2229.1L1224.0 2228.1L1225.0 2232.0L1226.0 2232.6L1227.0 2237.4L1228.0 2245.2L1229.0 2238.1L1230.0 2233.2L1231.0 2230.0L1232.0 2222.0L1233.0 2226.0L1234.0 2228.2L1235.0 2224.1L1236.0 2232.7L1237.0 2240.7L1238.0 2241.8L1239.0 2242.2L1240.0 2237.2L1241.0 2232.7L1242.0 2232.9L1243.0 2228.6L1244.0 2225.8L1245.0 2225.5L1246.0 2230.2L1247.0 2236.8L1248.0 2224.0L1249.0 2241.3L1250.0 2232.8L1251.0 2225.3L1252.0 2229.2L1253.0 2234.8L1254.0 2241.9L1255.0 2244.2L1256.0 2236.1L1257.0 2234.3L1258.0 2234.4L1259.0 2237.4L1260.0 2234.3L1261.0 2232.6L1262.0 2230.5L1263.0 2232.8L1264.0 2233.2L1265.0 2237.3L1266.0 2233.1L1267.0 2233.4L1268.0 2236.7L1269.0 2233.5L1270.0 2232.3L1271.0 2236.2L1272.0 2241.1L1273.0 2245.2L1274.0 2243.1L1275.0 2235.2L1276.0 2232.5L1277.0 2228.7L1278.0 2228.2L1279.0 2231.9L1280.0 2216.0L1281.0 2245.7L1282.0 2245.7L1283.0 2242.2L1284.0 2235.2L1285.0 2234.1L1286.0 2234.1L1287.0 2234.6L1288.0 2237.0L1289.0 2244.9L1290.0 2245.7L1291.0 2239.7L1292.0 2234.8L1293.0 2227.0L1294.0 2230.9L1295.0 2235.6L1296.0 2236.4L1297.0 2237.1L1298.0 2236.2L1299.0 2234.8L1300.0 2226.7L1301.0 2222.6L1302.0 2230.9L1303.0 2235.1L1304.0 2229.0L1305.0 2195.0L1306.0 2237.3L1307.0 2245.7" fill="none" stroke="#000" stroke-width="9.0" stroke-linejoin="round" stroke-linecap="round" /><path d="M396 2243 L419 2243" fill="none" stroke="#000" stroke-width="6" stroke-linejoin="round" stroke-linecap="round" /></g>
<g clip-path="url(#cBR)"><path d="M1311.0 1296.5L1313.0 1295.9L1315.0 1295.6L1317.0 1299.0L1319.0 1297.6L1321.0 1298.1L1323.0 1297.5L1325.0 1296.9L1327.0 1298.4L1329.0 1297.8L1331.0 1298.8L1333.0 1298.3L1335.0 1299.1L1337.0 1297.4L1339.0 1296.2L1341.0 1296.2L1343.0 1298.8L1345.0 1296.4L1347.0 1298.6L1349.0 1298.5L1351.0 1295.8L1353.0 1298.8L1355.0 1295.2L1357.0 1298.7L1359.0 1298.3L1361.0 1295.3L1363.0 1297.3L1365.0 1297.1L1367.0 1294.2L1369.0 1296.4L1371.0 1293.8L1373.0 1297.0L1375.0 1295.8L1377.0 1296.8L1379.0 1292.5L1381.0 1293.4L1383.0 1294.5L1385.0 1294.2L1387.0 1292.1L1389.0 1295.0L1391.0 1294.6L1393.0 1291.9L1395.0 1291.0L1397.0 1293.1L1399.0 1291.7L1401.0 1292.6L1403.0 1291.7L1405.0 1291.1L1407.0 1289.3L1409.0 1289.7L1411.0 1290.9L1413.0 1292.0L1415.0 1290.5L1417.0 1291.7L1419.0 1290.7L1421.0 1292.0L1423.0 1290.8L1425.0 1289.2L1427.0 1288.3L1429.0 1287.8L1431.0 1287.5L1433.0 1291.0L1435.0 1290.8L1437.0 1290.1L1439.0 1287.2L1441.0 1289.4L1443.0 1286.9L1445.0 1290.1L1447.0 1288.9L1449.0 1289.2L1451.0 1288.4L1453.0 1287.5L1455.0 1289.3L1457.0 1289.6L1459.0 1286.4L1461.0 1287.1L1463.0 1288.3L1465.0 1288.0L1467.0 1286.7L1469.0 1286.7L1471.0 1288.9L1473.0 1285.7L1475.0 1285.3L1477.0 1287.3L1479.0 1285.4L1481.0 1288.0L1483.0 1285.4L1485.0 1287.9L1487.0 1285.4L1489.0 1287.5L1491.0 1286.8L1493.0 1286.6L1495.0 1284.2L1497.0 1283.9L1499.0 1283.2L1501.0 1283.8L1503.0 1285.8L1505.0 1283.1L1507.0 1283.9L1509.0 1285.4L1511.0 1283.6L1513.0 1284.4L1515.0 1284.0L1517.0 1286.0L1519.0 1283.6L1521.0 1287.5L1523.0 1285.8L1525.0 1286.4L1527.0 1285.7L1529.0 1285.5L1531.0 1287.6L1533.0 1287.3L1535.0 1287.1L1537.0 1283.6L1539.0 1286.1L1541.0 1287.7L1543.0 1286.4L1545.0 1285.9L1547.0 1286.6L1549.0 1284.5L1551.0 1287.0L1553.0 1287.3L1555.0 1284.2L1557.0 1286.1L1559.0 1286.6L1561.0 1285.5L1563.0 1287.0L1565.0 1288.1L1567.0 1288.1L1569.0 1285.5L1571.0 1284.9L1573.0 1288.0L1575.0 1287.0L1577.0 1288.0L1579.0 1288.2L1581.0 1285.6L1583.0 1287.0L1585.0 1285.8L1587.0 1288.0L1589.0 1287.6L1591.0 1285.7L1593.0 1286.9L1595.0 1287.3L1597.0 1285.8L1599.0 1285.6L1601.0 1286.9L1603.0 1285.2L1605.0 1287.1L1607.0 1289.0L1609.0 1288.6L1611.0 1285.2L1613.0 1288.6L1615.0 1288.2L1617.0 1288.2L1619.0 1285.2L1621.0 1288.4L1623.0 1286.0L1625.0 1288.7L1627.0 1286.6L1629.0 1286.8L1631.0 1286.0L1633.0 1289.1L1635.0 1286.3L1637.0 1289.2L1639.0 1287.6L1641.0 1286.0L1643.0 1288.3L1645.0 1287.8L1647.0 1285.6L1649.0 1289.1L1651.0 1286.7L1653.0 1285.7L1655.0 1289.0L1657.0 1288.8L1659.0 1287.4L1661.0 1286.5L1663.0 1288.0L1665.0 1288.3L1667.0 1288.8L1669.0 1288.0L1671.0 1288.3L1673.0 1289.0L1675.0 1286.7L1677.0 1286.7L1679.0 1288.1L1681.0 1289.3L1683.0 1289.5L1685.0 1289.8L1687.0 1288.0L1689.0 1289.2L1691.0 1286.6L1693.0 1287.9L1695.0 1286.5L1697.0 1289.9L1699.0 1290.6L1701.0 1289.2L1703.0 1289.6L1705.0 1288.0L1707.0 1289.8L1709.0 1286.8L1711.0 1288.0L1713.0 1288.0L1715.0 1290.3L1717.0 1287.3L1719.0 1287.2L1721.0 1286.9L1723.0 1290.3L1725.0 1288.0L1727.0 1290.6L1729.0 1288.0L1731.0 1290.4L1733.0 1287.6L1735.0 1290.7L1737.0 1291.1L1739.0 1290.7L1741.0 1289.9L1743.0 1290.8L1745.0 1290.9L1747.0 1291.1L1749.0 1288.1L1751.0 1290.6L1753.0 1290.3L1755.0 1288.4L1757.0 1287.7L1759.0 1290.9L1761.0 1289.0L1763.0 1289.3L1765.0 1290.9L1767.0 1289.1L1769.0 1288.1L1771.0 1290.0L1773.0 1289.4L1775.0 1288.2L1777.0 1290.1L1779.0 1291.0L1781.0 1288.1L1783.0 1290.7L1785.0 1290.4L1787.0 1289.4L1789.0 1288.0L1791.0 1290.1L1793.0 1288.4L1795.0 1288.3L1797.0 1290.9L1799.0 1288.4L1801.0 1287.6L1803.0 1290.9L1805.0 1291.6L1807.0 1288.6L1809.0 1289.0L1811.0 1289.6L1813.0 1290.6L1815.0 1287.3L1817.0 1290.1L1819.0 1288.3L1821.0 1291.4L1823.0 1289.1L1825.0 1291.5L1827.0 1289.3L1829.0 1290.2L1831.0 1287.5L1833.0 1288.3L1835.0 1288.7L1837.0 1289.0L1839.0 1288.2L1841.0 1289.3L1843.0 1287.8L1845.0 1290.0L1847.0 1291.7L1849.0 1291.3L1851.0 1290.2L1853.0 1291.8L1855.0 1290.7L1857.0 1290.3L1859.0 1289.6L1861.0 1287.9L1863.0 1291.5L1865.0 1291.5L1867.0 1291.1L1869.0 1290.6L1871.0 1291.2L1873.0 1291.9L1875.0 1291.9L1877.0 1291.0L1879.0 1287.7L1881.0 1291.9L1883.0 1290.2L1885.0 1289.7L1887.0 1289.6L1889.0 1288.9L1891.0 1287.9L1893.0 1290.5L1895.0 1290.5L1897.0 1288.2L1899.0 1291.9L1901.0 1291.8L1903.0 1291.6L1905.0 1290.2L1907.0 1289.5L1909.0 1289.9L1911.0 1289.5L1913.0 1292.1L1915.0 1292.0L1917.0 1291.9L1919.0 1290.2L1921.0 1290.2L1923.0 1291.0L1925.0 1289.3L1927.0 1288.8L1929.0 1292.4L1931.0 1289.2L1933.0 1289.2L1935.0 1290.2L1937.0 1288.5L1939.0 1290.4L1941.0 1288.8L1943.0 1291.8L1945.0 1288.5L1947.0 1291.7L1949.0 1289.4L1951.0 1291.7L1953.0 1291.7L1955.0 1292.4L1957.0 1289.0L1959.0 1292.6L1961.0 1288.9L1963.0 1289.8L1965.0 1288.3L1967.0 1290.5L1969.0 1288.7L1971.0 1290.8L1973.0 1292.5L1975.0 1291.8L1977.0 1291.2L1979.0 1288.8L1981.0 1292.8L1983.0 1290.0L1985.0 1292.6L1987.0 1289.1L1989.0 1289.8L1991.0 1292.7L1993.0 1291.8L1995.0 1289.4L1997.0 1290.6L1999.0 1290.9L2001.0 1289.7L2003.0 1289.6L2005.0 1289.0L2007.0 1290.9L2009.0 1290.5L2011.0 1290.2L2013.0 1290.8L2015.0 1290.2L2017.0 1290.4L2019.0 1292.1L2021.0 1289.4L2023.0 1289.2L2025.0 1290.7L2027.0 1290.1L2029.0 1290.9L2031.0 1292.6L2033.0 1292.9L2035.0 1292.4L2037.0 1292.8L2039.0 1289.8L2041.0 1290.3L2043.0 1289.2L2045.0 1290.0L2047.0 1289.9L2049.0 1289.8L2051.0 1290.2L2053.0 1292.8L2055.0 1290.9L2057.0 1292.6L2059.0 1291.0L2061.0 1291.9L2063.0 1291.6L2065.0 1291.2L2067.0 1292.7L2069.0 1291.2L2071.0 1290.8L2073.0 1289.6L2075.0 1289.0L2077.0 1290.4L2079.0 1290.3L2081.0 1289.1L2083.0 1292.7L2085.0 1288.6L2087.0 1290.4L2089.0 1289.6L2091.0 1290.3L2093.0 1292.1L2095.0 1292.7L2097.0 1290.2L2099.0 1291.6L2101.0 1292.4L2103.0 1289.7L2105.0 1290.2L2107.0 1290.3L2109.0 1292.1L2111.0 1289.7L2113.0 1292.3L2115.0 1289.2L2117.0 1291.3L2119.0 1291.1L2121.0 1288.5L2123.0 1289.8L2125.0 1292.0L2127.0 1290.1L2129.0 1288.5L2131.0 1290.3L2133.0 1290.6L2135.0 1290.3L2137.0 1290.1L2139.0 1292.4L2141.0 1291.2L2143.0 1290.2L2145.0 1290.2L2147.0 1291.6L2149.0 1289.2L2151.0 1290.3L2153.0 1291.5L2155.0 1288.5L2157.0 1288.8L2159.0 1288.3L2161.0 1291.1L2163.0 1291.6L2165.0 1291.0L2167.0 1290.8L2169.0 1288.2L2171.0 1289.7L2173.0 1290.1L2175.0 1289.5L2177.0 1289.1L2179.0 1289.7L2181.0 1289.0L2183.0 1288.3L2185.0 1290.5L2187.0 1288.1L2189.0 1289.9L2191.0 1289.7L2193.0 1291.5L2195.0 1291.0L2197.0 1289.9L2199.0 1287.9L2201.0 1291.0L2203.0 1291.1L2205.0 1290.7L2207.0 1292.2L2209.0 1290.0L2211.0 1289.6L2213.0 1290.2L2215.0 1288.3L2217.0 1290.6L2219.0 1288.4" fill="none" stroke="#000" stroke-width="8" stroke-linejoin="round" stroke-linecap="round" /><path d="M1314.0 1379.3L1315.5 1379.2L1317.0 1379.2L1318.5 1378.1L1320.0 1379.1L1321.5 1379.5L1323.0 1379.5L1324.5 1379.0L1326.0 1377.7L1327.5 1378.9L1329.0 1377.6L1330.5 1379.2L1332.0 1377.2L1333.5 1377.1L1335.0 1377.8L1336.5 1377.1L1338.0 1378.7L1339.5 1378.6L1341.0 1377.2L1342.5 1378.3L1344.0 1377.2" fill="none" stroke="#0000ff" stroke-width="7.5" stroke-linejoin="round" stroke-linecap="round" /><path d="M1395.5 1378.1L1397.0 1376.7L1398.5 1378.4L1400.0 1377.4L1401.5 1377.0L1403.0 1377.4L1404.5 1376.5L1406.0 1376.6L1407.5 1377.4L1409.0 1377.7L1410.5 1378.5L1412.0 1377.5L1413.5 1377.2L1415.0 1377.0L1416.5 1376.5L1418.0 1378.3L1419.5 1377.9L1421.0 1377.0L1422.5 1378.0L1424.0 1377.9L1425.5 1377.8L1427.0 1377.4" fill="none" stroke="#0000ff" stroke-width="7.5" stroke-linejoin="round" stroke-linecap="round" /><path d="M1479.0 1378.2L1480.5 1378.4L1482.0 1378.0L1483.5 1376.9L1485.0 1377.4L1486.5 1377.8L1488.0 1378.4L1489.5 1377.5L1491.0 1377.5L1492.5 1376.6L1494.0 1376.6L1495.5 1377.0L1497.0 1377.9L1498.5 1376.9L1500.0 1378.0L1501.5 1377.8L1503.0 1377.1L1504.5 1377.5L1506.0 1378.2L1507.5 1376.6L1509.0 1377.8L1510.5 1378.0L1512.0 1378.4L1513.5 1377.2" fill="none" stroke="#0000ff" stroke-width="7.5" stroke-linejoin="round" stroke-linecap="round" /><path d="M1564.0 1377.8L1565.5 1378.1L1567.0 1377.1L1568.5 1378.1L1570.0 1378.0L1571.5 1378.4L1573.0 1377.3L1574.5 1376.7L1576.0 1377.5L1577.5 1377.9L1579.0 1378.3L1580.5 1378.0L1582.0 1377.6L1583.5 1378.2L1585.0 1378.2L1586.5 1377.7L1588.0 1377.0L1589.5 1376.5L1591.0 1377.7L1592.5 1376.5L1594.0 1377.2L1595.5 1378.5L1597.0 1377.0L1598.5 1377.9" fill="none" stroke="#0000ff" stroke-width="7.5" stroke-linejoin="round" stroke-linecap="round" /><path d="M1651.0 1378.0L1652.5 1377.1L1654.0 1377.7L1655.5 1378.3L1657.0 1377.9L1658.5 1377.2L1660.0 1378.5L1661.5 1377.8L1663.0 1377.0L1664.5 1378.1L1666.0 1378.1L1667.5 1378.3L1669.0 1378.2L1670.5 1378.1L1672.0 1377.3L1673.5 1378.0L1675.0 1378.0L1676.5 1378.1L1678.0 1376.9L1679.5 1378.5L1681.0 1377.7L1682.5 1378.3L1684.0 1377.5L1685.5 1378.1L1687.0 1377.7L1688.5 1377.1L1690.0 1377.5L1691.5 1378.1L1693.0 1377.1L1694.5 1378.3L1696.0 1378.0L1697.5 1378.1L1699.0 1377.6L1700.5 1377.9L1702.0 1377.8L1703.5 1377.3L1705.0 1376.5L1706.5 1377.6L1708.0 1377.9L1709.5 1377.6" fill="none" stroke="#0000ff" stroke-width="7.5" stroke-linejoin="round" stroke-linecap="round" /><path d="M1760.4 1377.3L1761.9 1377.6L1763.4 1376.7L1764.9 1377.8L1766.4 1376.6L1767.9 1376.8L1769.4 1376.7L1770.9 1378.4L1772.4 1378.3L1773.9 1377.8L1775.4 1378.4L1776.9 1376.9L1778.4 1377.8L1779.9 1377.4L1781.4 1376.7L1782.9 1377.7L1784.4 1376.7L1785.9 1377.1L1787.4 1376.8L1788.9 1377.0L1790.4 1378.3L1791.9 1377.5" fill="none" stroke="#0000ff" stroke-width="7.5" stroke-linejoin="round" stroke-linecap="round" /><path d="M1843.0 1377.6L1844.5 1376.8L1846.0 1376.8L1847.5 1376.7L1849.0 1377.9L1850.5 1377.7L1852.0 1378.0L1853.5 1377.7L1855.0 1377.0L1856.5 1377.3L1858.0 1377.2L1859.5 1378.4L1861.0 1377.9L1862.5 1378.2L1864.0 1377.8L1865.5 1378.4L1867.0 1378.0L1868.5 1376.5L1870.0 1376.7L1871.5 1376.6L1873.0 1378.3L1874.5 1376.9L1876.0 1377.4" fill="none" stroke="#0000ff" stroke-width="7.5" stroke-linejoin="round" stroke-linecap="round" /><path d="M1926.0 1377.7L1927.5 1376.9L1929.0 1377.1L1930.5 1378.3L1932.0 1376.9L1933.5 1378.2L1935.0 1377.4L1936.5 1377.9L1938.0 1377.3L1939.5 1377.9L1941.0 1377.9L1942.5 1377.3L1944.0 1377.1L1945.5 1377.4L1947.0 1378.0L1948.5 1376.5L1950.0 1376.9L1951.5 1377.2L1953.0 1377.9L1954.5 1377.5L1956.0 1376.9L1957.5 1378.3L1959.0 1377.6" fill="none" stroke="#0000ff" stroke-width="7.5" stroke-linejoin="round" stroke-linecap="round" /><path d="M2009.6 1378.3L2011.1 1377.3L2012.6 1378.4L2014.1 1377.7L2015.6 1377.2L2017.1 1376.8L2018.6 1378.1L2020.1 1376.8L2021.6 1378.1L2023.1 1378.1L2024.6 1376.8L2026.1 1378.0L2027.6 1377.9L2029.1 1376.7L2030.6 1378.0L2032.1 1378.4L2033.6 1377.2L2035.1 1377.6L2036.6 1377.3L2038.1 1377.0L2039.6 1376.8L2041.1 1377.8L2042.6 1378.4L2044.1 1376.8L2045.6 1376.5L2047.1 1377.6L2048.6 1377.0L2050.1 1378.2L2051.6 1377.1L2053.1 1376.5L2054.6 1377.1L2056.1 1377.3L2057.6 1377.4L2059.1 1377.3L2060.6 1377.1L2062.1 1378.4L2063.6 1376.5L2065.1 1376.9L2066.6 1378.1L2068.1 1376.9" fill="none" stroke="#0000ff" stroke-width="7.5" stroke-linejoin="round" stroke-linecap="round" /><path d="M2117.0 1376.9L2118.5 1377.3L2120.0 1377.8L2121.5 1378.1L2123.0 1378.1L2124.5 1376.9L2126.0 1378.4L2127.5 1376.9L2129.0 1378.1L2130.5 1378.2L2132.0 1376.7L2133.5 1377.3L2135.0 1376.9L2136.5 1377.4L2138.0 1378.1L2139.5 1378.1L2141.0 1378.0L2142.5 1376.6L2144.0 1377.1L2145.5 1378.3L2147.0 1378.0L2148.5 1378.0L2150.0 1376.8L2151.5 1376.8" fill="none" stroke="#0000ff" stroke-width="7.5" stroke-linejoin="round" stroke-linecap="round" /><path d="M2200.0 1377.5L2201.5 1377.7L2203.0 1376.7L2204.5 1378.2L2206.0 1377.6L2207.5 1378.4L2209.0 1378.3L2210.5 1377.3L2212.0 1377.1L2213.5 1378.2L2215.0 1377.5" fill="none" stroke="#0000ff" stroke-width="7.5" stroke-linejoin="round" stroke-linecap="round" /><circle cx="1370.6" cy="1378.0" r="3.6" fill="#0000ff"/><circle cx="1454.7" cy="1378.0" r="3.6" fill="#0000ff"/><circle cx="1538.4" cy="1378.0" r="3.6" fill="#0000ff"/><circle cx="1623.6" cy="1378.0" r="3.6" fill="#0000ff"/><circle cx="1734" cy="1378.0" r="3.6" fill="#0000ff"/><circle cx="1816.8" cy="1378.0" r="3.6" fill="#0000ff"/><circle cx="1901" cy="1378.0" r="3.6" fill="#0000ff"/><circle cx="1984.2" cy="1378.0" r="3.6" fill="#0000ff"/><circle cx="2094" cy="1378.0" r="3.6" fill="#0000ff"/><circle cx="2176" cy="1378.0" r="3.6" fill="#0000ff"/><path d="M1313.4 2076.8L1311.3 2077.9L1314.6 2084.9L1311.2 2087.5" fill="none" stroke="#ff0000" stroke-width="8.5" stroke-linejoin="round" stroke-linecap="round" /><path d="M1341.6 2090.5L1345.7 2094.1L1348.0 2093.9L1347.8 2098.7" fill="none" stroke="#ff0000" stroke-width="8.5" stroke-linejoin="round" stroke-linecap="round" /><path d="M1380.3 2105.2L1379.2 2106.5L1372.1 2109.7" fill="none" stroke="#ff0000" stroke-width="8.5" stroke-linejoin="round" stroke-linecap="round" /><path d="M1412.5 2104.1L1409.8 2104.7L1403.2 2109.2L1403.4 2113.5" fill="none" stroke="#ff0000" stroke-width="8.5" stroke-linejoin="round" stroke-linecap="round" /><path d="M1433.8 2111.2L1444.5 2111.7" fill="none" stroke="#ff0000" stroke-width="8.5" stroke-linejoin="round" stroke-linecap="round" /><path d="M1472.4 2114.3L1468.7 2114.8L1468.9 2116.5L1463.0 2120.7" fill="none" stroke="#ff0000" stroke-width="8.5" stroke-linejoin="round" stroke-linecap="round" /><path d="M1504.8 2115.2L1493.9 2121.3" fill="none" stroke="#ff0000" stroke-width="8.5" stroke-linejoin="round" stroke-linecap="round" /><path d="M1530.1 2114.8L1527.2 2117.8L1525.7 2120.2" fill="none" stroke="#ff0000" stroke-width="8.5" stroke-linejoin="round" stroke-linecap="round" /><path d="M1559.6 2109.2L1562.6 2114.3L1568.9 2111.1" fill="none" stroke="#ff0000" stroke-width="8.5" stroke-linejoin="round" stroke-linecap="round" /><path d="M1591.4 2105.0L1591.5 2114.8L1590.5 2120.5" fill="none" stroke="#ff0000" stroke-width="8.5" stroke-linejoin="round" stroke-linecap="round" /><path d="M1618.6 2114.8L1625.0 2121.8" fill="none" stroke="#ff0000" stroke-width="8.5" stroke-linejoin="round" stroke-linecap="round" /><path d="M1646.6 2115.3L1643.6 2118.4L1639.7 2121.3" fill="none" stroke="#ff0000" stroke-width="8.5" stroke-linejoin="round" stroke-linecap="round" /><path d="M1668.4 2107.9L1670.4 2109.6L1675.2 2111.2L1677.2 2115.8" fill="none" stroke="#ff0000" stroke-width="8.5" stroke-linejoin="round" stroke-linecap="round" /><path d="M1697.8 2111.7L1698.7 2114.0L1696.9 2119.3" fill="none" stroke="#ff0000" stroke-width="8.5" stroke-linejoin="round" stroke-linecap="round" /><path d="M1733.7 2110.2L1721.5 2120.4" fill="none" stroke="#ff0000" stroke-width="8.5" stroke-linejoin="round" stroke-linecap="round" /><path d="M1752.4 2112.7L1750.6 2117.8L1754.0 2121.8" fill="none" stroke="#ff0000" stroke-width="8.5" stroke-linejoin="round" stroke-linecap="round" /><path d="M1774.7 2109.9L1779.8 2114.0L1780.0 2118.0" fill="none" stroke="#ff0000" stroke-width="8.5" stroke-linejoin="round" stroke-linecap="round" /><path d="M1811.8 2114.0L1804.9 2115.9L1798.9 2121.5" fill="none" stroke="#ff0000" stroke-width="8.5" stroke-linejoin="round" stroke-linecap="round" /><path d="M1822.7 2110.9L1826.4 2113.7L1827.5 2116.9L1831.7 2117.5" fill="none" stroke="#ff0000" stroke-width="8.5" stroke-linejoin="round" stroke-linecap="round" /><path d="M1850.6 2116.4L1844.5 2120.6L1841.4 2122.9" fill="none" stroke="#ff0000" stroke-width="8.5" stroke-linejoin="round" stroke-linecap="round" /><path d="M1855.0 2115.7L1869.5 2121.6" fill="none" stroke="#ff0000" stroke-width="8.5" stroke-linejoin="round" stroke-linecap="round" /><path d="M1879.3 2120.1L1881.0 2118.9L1886.5 2124.5L1885.6 2125.7" fill="none" stroke="#ff0000" stroke-width="8.5" stroke-linejoin="round" stroke-linecap="round" /><path d="M1896.8 2116.4L1905.0 2123.8" fill="none" stroke="#ff0000" stroke-width="8.5" stroke-linejoin="round" stroke-linecap="round" /><path d="M1914.2 2111.7L1921.2 2120.7L1924.1 2126.7" fill="none" stroke="#ff0000" stroke-width="8.5" stroke-linejoin="round" stroke-linecap="round" /><path d="M1936.6 2115.9L1942.6 2124.3" fill="none" stroke="#ff0000" stroke-width="8.5" stroke-linejoin="round" stroke-linecap="round" /><path d="M1954.4 2119.8L1962.6 2119.8L1964.8 2120.9" fill="none" stroke="#ff0000" stroke-width="8.5" stroke-linejoin="round" stroke-linecap="round" /><path d="M1983.7 2119.7L1981.4 2119.9L1979.8 2125.4L1975.3 2126.0" fill="none" stroke="#ff0000" stroke-width="8.5" stroke-linejoin="round" stroke-linecap="round" /><path d="M1999.1 2115.3L2002.2 2120.0L2001.6 2125.5L2002.7 2127.6" fill="none" stroke="#ff0000" stroke-width="8.5" stroke-linejoin="round" stroke-linecap="round" /><path d="M2023.1 2112.5L2023.7 2123.4" fill="none" stroke="#ff0000" stroke-width="8.5" stroke-linejoin="round" stroke-linecap="round" /><path d="M2041.0 2114.3L2039.1 2119.7L2042.7 2120.3L2048.2 2124.2" fill="none" stroke="#ff0000" stroke-width="8.5" stroke-linejoin="round" stroke-linecap="round" /><path d="M2068.0 2114.5L2062.7 2118.5L2055.9 2121.7" fill="none" stroke="#ff0000" stroke-width="8.5" stroke-linejoin="round" stroke-linecap="round" /><path d="M2082.1 2117.4L2085.6 2118.9L2081.8 2124.6L2083.3 2125.2" fill="none" stroke="#ff0000" stroke-width="8.5" stroke-linejoin="round" stroke-linecap="round" /><path d="M2101.7 2115.4L2104.6 2120.4L2105.4 2124.1" fill="none" stroke="#ff0000" stroke-width="8.5" stroke-linejoin="round" stroke-linecap="round" /><path d="M2118.2 2114.2L2123.8 2118.4L2126.9 2120.9" fill="none" stroke="#ff0000" stroke-width="8.5" stroke-linejoin="round" stroke-linecap="round" /><path d="M2135.8 2113.8L2138.2 2119.1L2144.4 2126.2" fill="none" stroke="#ff0000" stroke-width="8.5" stroke-linejoin="round" stroke-linecap="round" /><path d="M2159.3 2113.6L2162.6 2118.8L2162.1 2124.7" fill="none" stroke="#ff0000" stroke-width="8.5" stroke-linejoin="round" stroke-linecap="round" /><path d="M2184.0 2114.9L2182.0 2122.0L2174.9 2124.2" fill="none" stroke="#ff0000" stroke-width="8.5" stroke-linejoin="round" stroke-linecap="round" /><path d="M2197.7 2114.7L2200.7 2117.1L2198.1 2123.4" fill="none" stroke="#ff0000" stroke-width="8.5" stroke-linejoin="round" stroke-linecap="round" /></g>
<g stroke="#000" fill="none">
<line x1="381.0" y1="51.0" x2="2246.2" y2="51.0" stroke-width="4.2" stroke-linecap="butt"/>
<line x1="369.1" y1="1147.3" x2="2233.2" y2="1147.3" stroke-width="4.2" stroke-linecap="butt"/>
<line x1="369.1" y1="2245.0" x2="2246.2" y2="2245.0" stroke-width="4.2" stroke-linecap="butt"/>
<line x1="394.6" y1="48.9" x2="394.6" y2="2247.1" stroke-width="4.2" stroke-linecap="butt"/>
<line x1="1308.2" y1="48.9" x2="1308.2" y2="2247.1" stroke-width="4.2" stroke-linecap="butt"/>
<line x1="2220.7" y1="48.9" x2="2220.7" y2="2247.1" stroke-width="4.2" stroke-linecap="butt"/>
<line x1="382.1" y1="1047.5" x2="394.6" y2="1047.5" stroke-width="4.2" stroke-linecap="butt"/>
<line x1="369.1" y1="947.8" x2="394.6" y2="947.8" stroke-width="4.2" stroke-linecap="butt"/>
<line x1="382.1" y1="848.0" x2="394.6" y2="848.0" stroke-width="4.2" stroke-linecap="butt"/>
<line x1="369.1" y1="748.2" x2="394.6" y2="748.2" stroke-width="4.2" stroke-linecap="butt"/>
<line x1="382.1" y1="648.5" x2="394.6" y2="648.5" stroke-width="4.2" stroke-linecap="butt"/>
<line x1="369.1" y1="548.7" x2="394.6" y2="548.7" stroke-width="4.2" stroke-linecap="butt"/>
<line x1="382.1" y1="448.9" x2="394.6" y2="448.9" stroke-width="4.2" stroke-linecap="butt"/>
<line x1="369.1" y1="349.1" x2="394.6" y2="349.1" stroke-width="4.2" stroke-linecap="butt"/>
<line x1="382.1" y1="249.4" x2="394.6" y2="249.4" stroke-width="4.2" stroke-linecap="butt"/>
<line x1="369.1" y1="149.6" x2="394.6" y2="149.6" stroke-width="4.2" stroke-linecap="butt"/>
<line x1="382.1" y1="2135.2" x2="394.6" y2="2135.2" stroke-width="4.2" stroke-linecap="butt"/>
<line x1="369.1" y1="2025.5" x2="394.6" y2="2025.5" stroke-width="4.2" stroke-linecap="butt"/>
<line x1="382.1" y1="1915.8" x2="394.6" y2="1915.8" stroke-width="4.2" stroke-linecap="butt"/>
<line x1="369.1" y1="1806.0" x2="394.6" y2="1806.0" stroke-width="4.2" stroke-linecap="butt"/>
<line x1="382.1" y1="1696.2" x2="394.6" y2="1696.2" stroke-width="4.2" stroke-linecap="butt"/>
<line x1="369.1" y1="1586.5" x2="394.6" y2="1586.5" stroke-width="4.2" stroke-linecap="butt"/>
<line x1="382.1" y1="1476.8" x2="394.6" y2="1476.8" stroke-width="4.2" stroke-linecap="butt"/>
<line x1="369.1" y1="1367.0" x2="394.6" y2="1367.0" stroke-width="4.2" stroke-linecap="butt"/>
<line x1="382.1" y1="1257.2" x2="394.6" y2="1257.2" stroke-width="4.2" stroke-linecap="butt"/>
<line x1="2220.7" y1="1078.8" x2="2233.2" y2="1078.8" stroke-width="4.2" stroke-linecap="butt"/>
<line x1="2220.7" y1="1010.3" x2="2246.2" y2="1010.3" stroke-width="4.2" stroke-linecap="butt"/>
<line x1="2220.7" y1="941.8" x2="2233.2" y2="941.8" stroke-width="4.2" stroke-linecap="butt"/>
<line x1="2220.7" y1="873.3" x2="2246.2" y2="873.3" stroke-width="4.2" stroke-linecap="butt"/>
<line x1="2220.7" y1="804.8" x2="2233.2" y2="804.8" stroke-width="4.2" stroke-linecap="butt"/>
<line x1="2220.7" y1="736.3" x2="2246.2" y2="736.3" stroke-width="4.2" stroke-linecap="butt"/>
<line x1="2220.7" y1="667.8" x2="2233.2" y2="667.8" stroke-width="4.2" stroke-linecap="butt"/>
<line x1="2220.7" y1="599.3" x2="2246.2" y2="599.3" stroke-width="4.2" stroke-linecap="butt"/>
<line x1="2220.7" y1="530.8" x2="2233.2" y2="530.8" stroke-width="4.2" stroke-linecap="butt"/>
<line x1="2220.7" y1="462.3" x2="2246.2" y2="462.3" stroke-width="4.2" stroke-linecap="butt"/>
<line x1="2220.7" y1="393.8" x2="2233.2" y2="393.8" stroke-width="4.2" stroke-linecap="butt"/>
<line x1="2220.7" y1="325.3" x2="2246.2" y2="325.3" stroke-width="4.2" stroke-linecap="butt"/>
<line x1="2220.7" y1="256.8" x2="2233.2" y2="256.8" stroke-width="4.2" stroke-linecap="butt"/>
<line x1="2220.7" y1="188.3" x2="2246.2" y2="188.3" stroke-width="4.2" stroke-linecap="butt"/>
<line x1="2220.7" y1="119.8" x2="2233.2" y2="119.8" stroke-width="4.2" stroke-linecap="butt"/>
<line x1="2220.7" y1="2145.3" x2="2233.2" y2="2145.3" stroke-width="4.2" stroke-linecap="butt"/>
<line x1="2220.7" y1="2045.5" x2="2246.2" y2="2045.5" stroke-width="4.2" stroke-linecap="butt"/>
<line x1="2220.7" y1="1945.8" x2="2233.2" y2="1945.8" stroke-width="4.2" stroke-linecap="butt"/>
<line x1="2220.7" y1="1846.0" x2="2246.2" y2="1846.0" stroke-width="4.2" stroke-linecap="butt"/>
<line x1="2220.7" y1="1746.3" x2="2233.2" y2="1746.3" stroke-width="4.2" stroke-linecap="butt"/>
<line x1="2220.7" y1="1646.6" x2="2246.2" y2="1646.6" stroke-width="4.2" stroke-linecap="butt"/>
<line x1="2220.7" y1="1546.8" x2="2233.2" y2="1546.8" stroke-width="4.2" stroke-linecap="butt"/>
<line x1="2220.7" y1="1447.1" x2="2246.2" y2="1447.1" stroke-width="4.2" stroke-linecap="butt"/>
<line x1="2220.7" y1="1347.3" x2="2233.2" y2="1347.3" stroke-width="4.2" stroke-linecap="butt"/>
<line x1="2220.7" y1="1247.6" x2="2246.2" y2="1247.6" stroke-width="4.2" stroke-linecap="butt"/>
<line x1="425.0" y1="2245.0" x2="425.0" y2="2268.0" stroke-width="4.2" stroke-linecap="butt"/>
<line x1="425.0" y1="1124.3" x2="425.0" y2="1170.3" stroke-width="4.2" stroke-linecap="butt"/>
<line x1="535.2" y1="2245.0" x2="535.2" y2="2258.0" stroke-width="4.2" stroke-linecap="butt"/>
<line x1="535.2" y1="1134.3" x2="535.2" y2="1160.3" stroke-width="4.2" stroke-linecap="butt"/>
<line x1="645.5" y1="2245.0" x2="645.5" y2="2268.0" stroke-width="4.2" stroke-linecap="butt"/>
<line x1="645.5" y1="1124.3" x2="645.5" y2="1170.3" stroke-width="4.2" stroke-linecap="butt"/>
<line x1="755.8" y1="2245.0" x2="755.8" y2="2258.0" stroke-width="4.2" stroke-linecap="butt"/>
<line x1="755.8" y1="1134.3" x2="755.8" y2="1160.3" stroke-width="4.2" stroke-linecap="butt"/>
<line x1="866.0" y1="2245.0" x2="866.0" y2="2268.0" stroke-width="4.2" stroke-linecap="butt"/>
<line x1="866.0" y1="1124.3" x2="866.0" y2="1170.3" stroke-width="4.2" stroke-linecap="butt"/>
<line x1="976.2" y1="2245.0" x2="976.2" y2="2258.0" stroke-width="4.2" stroke-linecap="butt"/>
<line x1="976.2" y1="1134.3" x2="976.2" y2="1160.3" stroke-width="4.2" stroke-linecap="butt"/>
<line x1="1086.5" y1="2245.0" x2="1086.5" y2="2268.0" stroke-width="4.2" stroke-linecap="butt"/>
<line x1="1086.5" y1="1124.3" x2="1086.5" y2="1170.3" stroke-width="4.2" stroke-linecap="butt"/>
<line x1="1196.8" y1="2245.0" x2="1196.8" y2="2258.0" stroke-width="4.2" stroke-linecap="butt"/>
<line x1="1196.8" y1="1134.3" x2="1196.8" y2="1160.3" stroke-width="4.2" stroke-linecap="butt"/>
<line x1="1338.8" y1="2245.0" x2="1338.8" y2="2268.0" stroke-width="4.2" stroke-linecap="butt"/>
<line x1="1338.8" y1="1124.3" x2="1338.8" y2="1170.3" stroke-width="4.2" stroke-linecap="butt"/>
<line x1="1449.0" y1="2245.0" x2="1449.0" y2="2258.0" stroke-width="4.2" stroke-linecap="butt"/>
<line x1="1449.0" y1="1134.3" x2="1449.0" y2="1160.3" stroke-width="4.2" stroke-linecap="butt"/>
<line x1="1559.3" y1="2245.0" x2="1559.3" y2="2268.0" stroke-width="4.2" stroke-linecap="butt"/>
<line x1="1559.3" y1="1124.3" x2="1559.3" y2="1170.3" stroke-width="4.2" stroke-linecap="butt"/>
<line x1="1669.5" y1="2245.0" x2="1669.5" y2="2258.0" stroke-width="4.2" stroke-linecap="butt"/>
<line x1="1669.5" y1="1134.3" x2="1669.5" y2="1160.3" stroke-width="4.2" stroke-linecap="butt"/>
<line x1="1779.8" y1="2245.0" x2="1779.8" y2="2268.0" stroke-width="4.2" stroke-linecap="butt"/>
<line x1="1779.8" y1="1124.3" x2="1779.8" y2="1170.3" stroke-width="4.2" stroke-linecap="butt"/>
<line x1="1890.0" y1="2245.0" x2="1890.0" y2="2258.0" stroke-width="4.2" stroke-linecap="butt"/>
<line x1="1890.0" y1="1134.3" x2="1890.0" y2="1160.3" stroke-width="4.2" stroke-linecap="butt"/>
<line x1="2000.3" y1="2245.0" x2="2000.3" y2="2268.0" stroke-width="4.2" stroke-linecap="butt"/>
<line x1="2000.3" y1="1124.3" x2="2000.3" y2="1170.3" stroke-width="4.2" stroke-linecap="butt"/>
<line x1="2110.6" y1="2245.0" x2="2110.6" y2="2258.0" stroke-width="4.2" stroke-linecap="butt"/>
<line x1="2110.6" y1="1134.3" x2="2110.6" y2="1160.3" stroke-width="4.2" stroke-linecap="butt"/>
<line x1="2220.8" y1="2245.0" x2="2220.8" y2="2268.0" stroke-width="4.2" stroke-linecap="butt"/>
<line x1="2220.8" y1="1124.3" x2="2220.8" y2="1170.3" stroke-width="4.2" stroke-linecap="butt"/>
</g>
<g font-family="'Liberation Sans', Arial, sans-serif" fill="#000" stroke="#000" stroke-width="0.9" stroke-linejoin="round">
<text transform="translate(353.70,1162.70) scale(1,1.017)" font-size="60" text-anchor="end">0</text>
<text transform="translate(353.70,963.16) scale(1,1.017)" font-size="60" text-anchor="end">2,000</text>
<text transform="translate(353.70,763.62) scale(1,1.017)" font-size="60" text-anchor="end">4,000</text>
<text transform="translate(353.70,564.08) scale(1,1.017)" font-size="60" text-anchor="end">6,000</text>
<text transform="translate(353.70,364.54) scale(1,1.017)" font-size="60" text-anchor="end">8,000</text>
<text transform="translate(353.70,165.00) scale(1,1.017)" font-size="60" text-anchor="end">10,000</text>
<text transform="translate(313.50,2046.60) scale(1,1.017)" font-size="60" text-anchor="end">2.0x10</text>
<text transform="translate(317.80,2014.00) scale(1,1.09)" font-size="32.5" text-anchor="start">17</text>
<text transform="translate(313.50,1827.10) scale(1,1.017)" font-size="60" text-anchor="end">4.0x10</text>
<text transform="translate(317.80,1794.50) scale(1,1.09)" font-size="32.5" text-anchor="start">17</text>
<text transform="translate(313.50,1607.60) scale(1,1.017)" font-size="60" text-anchor="end">6.0x10</text>
<text transform="translate(317.80,1575.00) scale(1,1.09)" font-size="32.5" text-anchor="start">17</text>
<text transform="translate(313.50,1388.10) scale(1,1.017)" font-size="60" text-anchor="end">8.0x10</text>
<text transform="translate(317.80,1355.50) scale(1,1.09)" font-size="32.5" text-anchor="start">17</text>
<text transform="translate(353.70,2253.10) scale(1,1.017)" font-size="60" text-anchor="end">0.0</text>
<text transform="translate(2258.80,1025.30) scale(1,1.017)" font-size="60" text-anchor="start">0.5</text>
<text transform="translate(2258.80,888.30) scale(1,1.017)" font-size="60" text-anchor="start">1.0</text>
<text transform="translate(2258.80,751.30) scale(1,1.017)" font-size="60" text-anchor="start">1.5</text>
<text transform="translate(2258.80,614.30) scale(1,1.017)" font-size="60" text-anchor="start">2.0</text>
<text transform="translate(2258.80,477.30) scale(1,1.017)" font-size="60" text-anchor="start">2.5</text>
<text transform="translate(2258.80,340.30) scale(1,1.017)" font-size="60" text-anchor="start">3.0</text>
<text transform="translate(2258.80,203.30) scale(1,1.017)" font-size="60" text-anchor="start">3.5</text>
<text transform="translate(2258.80,66.30) scale(1,1.017)" font-size="60" text-anchor="start">4.0</text>
<text transform="translate(2267.40,1262.70) scale(1,1.017)" font-size="60" text-anchor="start">0.5</text>
<text transform="translate(2267.40,1462.18) scale(1,1.017)" font-size="60" text-anchor="start">0.0</text>
<text transform="translate(2267.40,1661.66) scale(1,1.017)" font-size="60" text-anchor="start">-0.5</text>
<text transform="translate(2267.40,1861.14) scale(1,1.017)" font-size="60" text-anchor="start">-1.0</text>
<text transform="translate(2267.40,2060.62) scale(1,1.017)" font-size="60" text-anchor="start">-1.5</text>
<text transform="translate(2267.40,2260.10) scale(1,1.017)" font-size="60" text-anchor="start">-2.0</text>
<text transform="translate(424.00,2329.50) scale(1,1.017)" font-size="60" text-anchor="middle">0</text>
<text transform="translate(644.50,2329.50) scale(1,1.017)" font-size="60" text-anchor="middle">500</text>
<text transform="translate(865.00,2329.50) scale(1,1.017)" font-size="60" text-anchor="middle">1000</text>
<text transform="translate(1085.50,2329.50) scale(1,1.017)" font-size="60" text-anchor="middle">1500</text>
<text transform="translate(1337.80,2329.50) scale(1,1.017)" font-size="60" text-anchor="middle">0</text>
<text transform="translate(1558.30,2329.50) scale(1,1.017)" font-size="60" text-anchor="middle">500</text>
<text transform="translate(1778.80,2329.50) scale(1,1.017)" font-size="60" text-anchor="middle">1000</text>
<text transform="translate(1999.30,2329.50) scale(1,1.017)" font-size="60" text-anchor="middle">1500</text>
<text transform="translate(2219.80,2329.50) scale(1,1.017)" font-size="60" text-anchor="middle">2000</text>
</g>
<rect x="590.6" y="64.2" width="709.2" height="437.8" fill="#fff" stroke="#000" stroke-width="1.8"/>
<line x1="622.2" y1="110.4" x2="779.7" y2="110.4" stroke="#000" stroke-width="8.8" stroke-linecap="round"/>
<line x1="622.2" y1="197.5" x2="649.9" y2="197.5" stroke="#ff0000" stroke-width="8.8" stroke-linecap="round"/>
<line x1="695.5" y1="197.5" x2="723.4" y2="197.5" stroke="#ff0000" stroke-width="8.8" stroke-linecap="round"/>
<line x1="769.2" y1="197.5" x2="779.7" y2="197.5" stroke="#ff0000" stroke-width="8.8" stroke-linecap="round"/>
<line x1="622.3" y1="285.0" x2="629.5" y2="285.0" stroke="#0000ff" stroke-width="8.8" stroke-linecap="round"/>
<line x1="654.4" y1="285.0" x2="661.6" y2="285.0" stroke="#0000ff" stroke-width="8.8" stroke-linecap="round"/>
<line x1="688.6" y1="285.0" x2="695.8" y2="285.0" stroke="#0000ff" stroke-width="8.8" stroke-linecap="round"/>
<line x1="720.9" y1="285.0" x2="728.4" y2="285.0" stroke="#0000ff" stroke-width="8.8" stroke-linecap="round"/>
<line x1="754.7" y1="285.0" x2="762.1" y2="285.0" stroke="#0000ff" stroke-width="8.8" stroke-linecap="round"/>
<line x1="622.3" y1="372.0" x2="656.2" y2="372.0" stroke="#008080" stroke-width="8.8" stroke-linecap="round"/>
<circle cx="683.4" cy="372.0" r="3.8" fill="#008080"/>
<line x1="712.3" y1="372.0" x2="745.4" y2="372.0" stroke="#008080" stroke-width="8.8" stroke-linecap="round"/>
<circle cx="773.1" cy="372.0" r="3.8" fill="#008080"/>
<line x1="622.3" y1="460.5" x2="644.0" y2="460.5" stroke="#ff00ff" stroke-width="8.8" stroke-linecap="round"/>
<circle cx="671.4" cy="460.5" r="3.8" fill="#ff00ff"/>
<circle cx="697.8" cy="460.5" r="3.8" fill="#ff00ff"/>
<line x1="727.1" y1="460.5" x2="748.6" y2="460.5" stroke="#ff00ff" stroke-width="8.8" stroke-linecap="round"/>
<circle cx="775.9" cy="460.5" r="3.8" fill="#ff00ff"/>
<rect x="1924" y="1747.4" width="263.4" height="262.6" fill="#fff" stroke="#000" stroke-width="1.8"/>
<line x1="1945.0" y1="1794.3" x2="2101.8" y2="1794.3" stroke="#000" stroke-width="8.8" stroke-linecap="round"/>
<line x1="1945.0" y1="1881.6" x2="1972.1" y2="1881.6" stroke="#ff0000" stroke-width="8.8" stroke-linecap="round"/>
<line x1="2018.7" y1="1881.6" x2="2045.5" y2="1881.6" stroke="#ff0000" stroke-width="8.8" stroke-linecap="round"/>
<line x1="2092.4" y1="1881.6" x2="2100.1" y2="1881.6" stroke="#ff0000" stroke-width="8.8" stroke-linecap="round"/>
<line x1="1945.0" y1="1968.5" x2="1977.6" y2="1968.5" stroke="#0000ff" stroke-width="8.8" stroke-linecap="round"/>
<circle cx="2005.7" cy="1968.5" r="3.8" fill="#0000ff"/>
<line x1="2033.6" y1="1968.5" x2="2066.2" y2="1968.5" stroke="#0000ff" stroke-width="8.8" stroke-linecap="round"/>
<circle cx="2095.4" cy="1968.5" r="3.8" fill="#0000ff"/>
<g font-family="'Liberation Sans', Arial, sans-serif" fill="#000" stroke="#000" stroke-width="0.9" stroke-linejoin="round">
<text transform="translate(1184.30,2423.75)" font-size="71" textLength="283.8" lengthAdjust="spacing">Time (fs)</text>
<text transform="translate(164.25,827.40) rotate(-90)" font-size="71" textLength="524.8" lengthAdjust="spacing">Temperature (K)</text>
<text transform="translate(2429.50,793.50) rotate(-90)" font-size="71" textLength="463.5" lengthAdjust="spacing">Band gap (eV)</text>
<text transform="translate(2445.15,1966.70) rotate(-90)" font-size="71" textLength="509.1" lengthAdjust="spacing">Mulliken charge</text>
<text transform="translate(96.50,2084.60) rotate(-90)" font-size="71" textLength="961.8" lengthAdjust="spacing">Coupling parameter (W/(m<tspan font-size="42" dy="-40.7">3</tspan><tspan dy="40.7">K))</tspan></text>
<text transform="translate(798.60,135.85)" font-size="69" textLength="297.2" lengthAdjust="spacing">Electrons</text>
<text transform="translate(799.60,220.40)" font-size="69" textLength="480.2" lengthAdjust="spacing">Atoms average</text>
<text transform="translate(799.20,310.30) scale(1,1.0816)" font-size="69">C</text>
<text transform="translate(798.60,399.05) scale(1,1.0513)" font-size="69">O</text>
<text transform="translate(799.10,485.75) scale(1,1.0198)" font-size="69">H</text>
<text transform="translate(2121.20,1819.60) scale(1,1.0533)" font-size="69">C</text>
<text transform="translate(2121.20,1905.65) scale(1,1.0389)" font-size="69">O</text>
<text transform="translate(2121.00,1992.80) scale(1,1.0092)" font-size="69">H</text>
</g>
</svg></body></html>
